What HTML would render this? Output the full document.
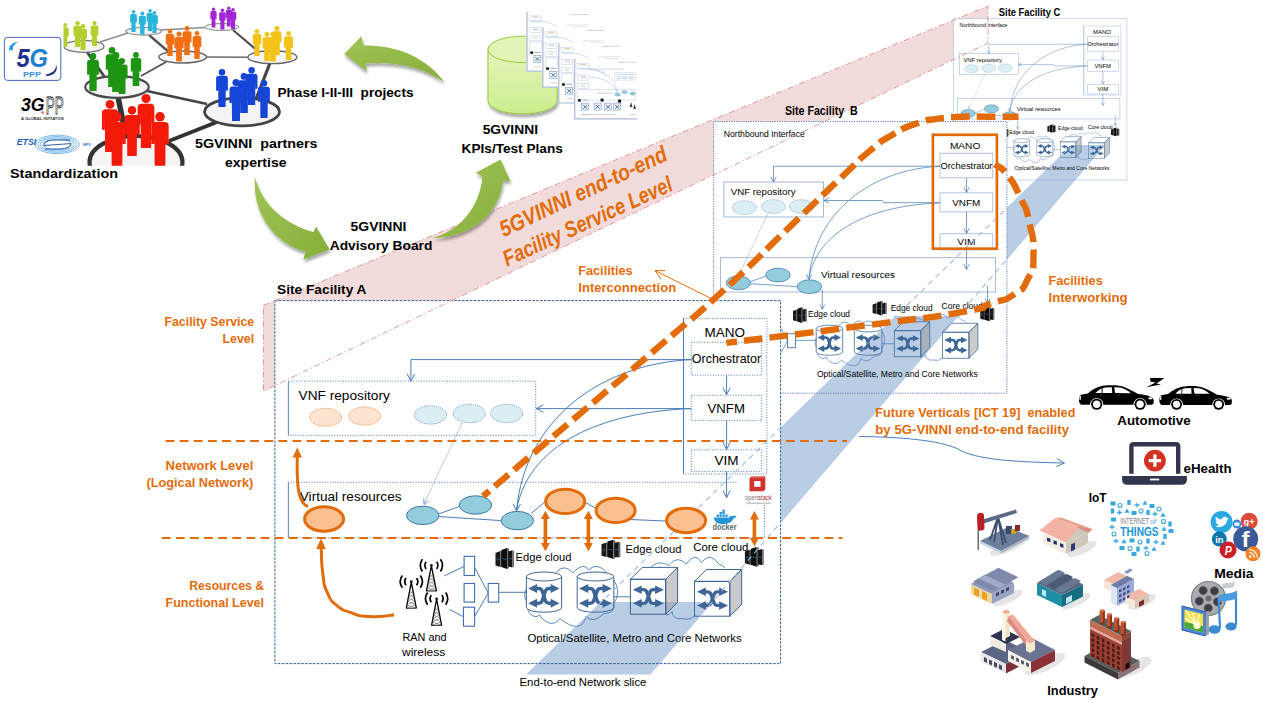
<!DOCTYPE html>
<html lang="en"><head><meta charset="utf-8"><title>5G-VINNI end-to-end facility</title>
<style>html,body{margin:0;padding:0;background:#fff;overflow:hidden}svg{display:block}text{font-family:"Liberation Sans",sans-serif;white-space:pre}</style></head>
<body>
<svg width="1263" height="708" viewBox="0 0 1263 708" font-family='&quot;Liberation Sans&quot;, sans-serif'><polygon points="263.5,305.4 988,6 988,43 263.5,391" fill="#f2dcdb"/>
<rect x="953.5" y="18.6" width="173.3" height="161.4" fill="#fff"/>
<rect x="713.7" y="121.5" width="293.2" height="271.7" fill="#fff"/>
<rect x="274.9" y="300.6" width="505.7" height="363" fill="#fff"/>
<defs><clipPath id="bandclip"><rect x="0" y="602" width="1263" height="80"/><rect x="780.6" y="316" width="500" height="286"/><rect x="1006.9" y="145" width="300" height="171"/></clipPath><clipPath id="clipB"><polygon points="713.7,121.5 1006.9,121.5 1006.9,393.2 780.6,393.2 780.6,300.6 713.7,300.6"/></clipPath><clipPath id="clipC"><polygon points="953.5,18.6 1126.8,18.6 1126.8,180 1006.9,180 1006.9,121.5 953.5,121.5"/></clipPath><clipPath id="clipA"><rect x="274.9" y="300.6" width="505.7" height="363"/></clipPath></defs>
<g clip-path="url(#bandclip)"><polygon points="526.6,674.5 650,674.5 1105,145 1072,145" fill="#b9cde5"/></g>
<g clip-path="url(#clipC)"><g transform="translate(780.5,-115.6) scale(0.4437,0.4445)"><rect x="403.4" y="380.7" width="132.7" height="46.7" fill="none" stroke="#8fabd6" stroke-width="1.1"/><text x="412.5" y="398.6" font-size="13.2" textLength="86.4" lengthAdjust="spacingAndGlyphs">VNF repository</text><text x="403.4" y="320.9" font-size="12.6" textLength="107.7" lengthAdjust="spacingAndGlyphs">Northbound Interface</text><ellipse cx="430.5" cy="414.9" rx="16.1" ry="9.2" fill="#dbeef4" stroke="#6f93b5" stroke-width="1" stroke-dasharray="1 1"/><ellipse cx="469.3" cy="413.5" rx="16.1" ry="9.2" fill="#dbeef4" stroke="#6f93b5" stroke-width="1" stroke-dasharray="1 1"/><ellipse cx="506.6" cy="413.5" rx="16.1" ry="9.2" fill="#dbeef4" stroke="#6f93b5" stroke-width="1" stroke-dasharray="1 1"/><rect x="399" y="481.8" width="366" height="45.9" fill="none" stroke="#8fabd6" stroke-width="1.1"/><text x="532.8" y="508.9" font-size="13.2" textLength="98.6" lengthAdjust="spacingAndGlyphs">Virtual resources</text><line x1="534.5" y1="524.3" x2="534.5" y2="550.8" stroke="#4a7ebb" stroke-width="1"/><polyline points="531.32,544.56 534.5,550.8 537.68,544.56" stroke="#4a7ebb" fill="none" stroke-width="1"/><line x1="754.5" y1="519.2" x2="754.5" y2="543" stroke="#4a7ebb" stroke-width="1"/><polyline points="751.32,536.76 754.5,543 757.68,536.76" stroke="#4a7ebb" fill="none" stroke-width="1"/><g stroke="#4a7ebb" stroke-width="1"><line x1="438.6" y1="514" x2="459.8" y2="506.3"/><line x1="438.8" y1="516.6" x2="501.2" y2="520.6"/></g><ellipse cx="422.7" cy="515.4" rx="16.2" ry="9.2" fill="#93cddd" stroke="#3a78a8" stroke-width="1"/><ellipse cx="475.5" cy="505" rx="16.2" ry="9.2" fill="#93cddd" stroke="#3a78a8" stroke-width="1"/><ellipse cx="517.4" cy="520.6" rx="16.2" ry="9.2" fill="#93cddd" stroke="#3a78a8" stroke-width="1"/><path d="M683.5,474 L683.5,318.4" fill="none" stroke="#4a7ebb" stroke-width="1"/><path d="M683.5,318.4 L766.9,318.4 L766.9,474 L683.5,474" fill="none" stroke="#9db6dc" stroke-width="1"/><rect x="691.3" y="342.3" width="70.3" height="32.8" fill="none" stroke="#9db6dc" stroke-width="1.1"/><rect x="691.3" y="395.2" width="70.3" height="25.4" fill="none" stroke="#9db6dc" stroke-width="1.1"/><rect x="691.3" y="449.8" width="70.3" height="21.6" fill="none" stroke="#9db6dc" stroke-width="1.1"/><text x="704.5" y="336.6" font-size="13.2" textLength="40.4" lengthAdjust="spacingAndGlyphs">MANO</text><text x="691.8" y="363.2" font-size="12.6" textLength="69.4" lengthAdjust="spacingAndGlyphs">Orchestrator</text><text x="707.5" y="413.2" font-size="13.2" textLength="37.4" lengthAdjust="spacingAndGlyphs">VNFM</text><text x="714.4" y="465.1" font-size="13.2" textLength="24.1" lengthAdjust="spacingAndGlyphs">VIM</text><line x1="726.6" y1="375.1" x2="726.6" y2="394.8" stroke="#4a7ebb" stroke-width="1"/><polyline points="722.97,387.67 726.6,394.8 730.23,387.67" stroke="#4a7ebb" fill="none" stroke-width="1"/><line x1="726.6" y1="420.6" x2="726.6" y2="449.4" stroke="#4a7ebb" stroke-width="1"/><polyline points="722.97,442.27 726.6,449.4 730.23,442.27" stroke="#4a7ebb" fill="none" stroke-width="1"/><line x1="726.6" y1="471.4" x2="726.6" y2="497.6" stroke="#4a7ebb" stroke-width="1"/><polyline points="722.97,490.47 726.6,497.6 730.23,490.47" stroke="#4a7ebb" fill="none" stroke-width="1"/><polyline points="691.3,359.6 469.5,359.6 469.5,380.3" fill="none" stroke="#4a7ebb" stroke-width="1"/><polyline points="465.87,373.57 469.5,380.7 473.13,373.57" stroke="#4a7ebb" fill="none" stroke-width="1"/><polyline points="691.3,408.3 616.5,408.3 614.5,405.4 536.6,405.4" fill="none" stroke="#4a7ebb" stroke-width="1"/><polyline points="543.73,401.77 536.6,405.4 543.73,409.03" stroke="#4a7ebb" fill="none" stroke-width="1"/><path d="M691.3,359.6 C600,364 525,420 516.6,510" fill="none" stroke="#4a7ebb" stroke-width="1"/><path d="M691.3,408.6 C600,412 528,445 516.6,510" fill="none" stroke="#4a7ebb" stroke-width="1"/><polyline points="513.22,503.75 516.6,511 520.48,504" stroke="#4a7ebb" fill="none" stroke-width="1"/><line x1="462" y1="423" x2="424.2" y2="503.5" stroke="#4a7ebb" stroke-width="0.8" stroke-dasharray="1 1"/><polyline points="423.79,498.5 424,504.5 428.73,500.81" stroke-width="0.8" stroke="#4a7ebb" fill="none"/><path d="M556,572.4 Q564.4,563.2 572.8,572.8 Q583.7,561.45 588.6,569.9 Q596.25,561.65 606.9,572.4 M613.8,579.8 Q621.8,592.35 613.8,603.5 Q615.1,613.45 604,613.6 M604,613.4 Q592.95,624.35 586.1,616.3 Q581.2,635.5 559.5,618.3 M559.5,619.3 Q550.55,629.5 539.4,615.3 M540.7,614.8 Q533.35,620 527.8,610.4 M526.4,589 Q522.8,595 526.4,601" fill="none" stroke="#4a7ebb" stroke-width="0.9"/><path d="M651.1,567 Q658.8,559.2 669.7,565.8 M669.7,564.7 Q677.5,554.8 686.1,564.1 Q695.45,551.35 701.4,562.4 Q710.35,551.05 719.5,564.7 Q722.9,564.8 725.1,568.1 M665.7,614.8 Q669.15,616 672,611.6 Q672.5,620.1 683,618.6 Q689.3,620.7 694.4,616" fill="none" stroke="#4a7ebb" stroke-width="0.9"/><g stroke="#000" fill="none"><circle cx="431.4" cy="565.4" r="1.3" fill="#000" stroke="none"/><path d="M431.4,565.9 L426.4,591 M431.4,565.9 L436.4,591" stroke-width="1.3"/><path d="M429.65,574.36 L433.8,577.69 M433.15,574.36 L429,577.69 M429,577.69 L434.45,581.02 M433.8,577.69 L428.35,581.02 M428.35,581.02 L435.1,584.34 M434.45,581.02 L427.7,584.34 M427.7,584.34 L435.75,587.67 M435.1,584.34 L427.05,587.67 M427.05,587.67 L436.4,591 M435.75,587.67 L426.4,591" stroke-width="0.45" stroke="#444"/><line x1="426.1" y1="591" x2="436.7" y2="591" stroke-width="0.9"/><path d="M426.09,561.82 A6.4,6.4 0 0 0 426.09,568.98" stroke-width="1.7"/><path d="M436.71,561.82 A6.4,6.4 0 0 1 436.71,568.98" stroke-width="1.7"/><path d="M422.36,559.3 A10.9,10.9 0 0 0 422.36,571.5" stroke-width="1.7"/><path d="M440.44,559.3 A10.9,10.9 0 0 1 440.44,571.5" stroke-width="1.7"/></g><g stroke="#000" fill="none"><circle cx="411.3" cy="581.6" r="1.3" fill="#000" stroke="none"/><path d="M411.3,582.1 L406.3,608.2 M411.3,582.1 L416.3,608.2" stroke-width="1.3"/><path d="M409.55,590.91 L413.7,594.37 M413.05,590.91 L408.9,594.37 M408.9,594.37 L414.35,597.83 M413.7,594.37 L408.25,597.83 M408.25,597.83 L415,601.28 M414.35,597.83 L407.6,601.28 M407.6,601.28 L415.65,604.74 M415,601.28 L406.95,604.74 M406.95,604.74 L416.3,608.2 M415.65,604.74 L406.3,608.2" stroke-width="0.45" stroke="#444"/><line x1="406" y1="608.2" x2="416.6" y2="608.2" stroke-width="0.9"/><path d="M405.99,578.02 A6.4,6.4 0 0 0 405.99,585.18" stroke-width="1.7"/><path d="M416.61,578.02 A6.4,6.4 0 0 1 416.61,585.18" stroke-width="1.7"/><path d="M402.26,575.5 A10.9,10.9 0 0 0 402.26,587.7" stroke-width="1.7"/><path d="M420.34,575.5 A10.9,10.9 0 0 1 420.34,587.7" stroke-width="1.7"/></g><g stroke="#000" fill="none"><circle cx="436.6" cy="598.7" r="1.3" fill="#000" stroke="none"/><path d="M436.6,599.2 L431.6,625.3 M436.6,599.2 L441.6,625.3" stroke-width="1.3"/><path d="M434.85,608.01 L439,611.47 M438.35,608.01 L434.2,611.47 M434.2,611.47 L439.65,614.93 M439,611.47 L433.55,614.93 M433.55,614.93 L440.3,618.38 M439.65,614.93 L432.9,618.38 M432.9,618.38 L440.95,621.84 M440.3,618.38 L432.25,621.84 M432.25,621.84 L441.6,625.3 M440.95,621.84 L431.6,625.3" stroke-width="0.45" stroke="#444"/><line x1="431.3" y1="625.3" x2="441.9" y2="625.3" stroke-width="0.9"/><path d="M431.29,595.12 A6.4,6.4 0 0 0 431.29,602.28" stroke-width="1.7"/><path d="M441.91,595.12 A6.4,6.4 0 0 1 441.91,602.28" stroke-width="1.7"/><path d="M427.56,592.6 A10.9,10.9 0 0 0 427.56,604.8" stroke-width="1.7"/><path d="M445.64,592.6 A10.9,10.9 0 0 1 445.64,604.8" stroke-width="1.7"/></g><rect x="464.1" y="556.3" width="10.5" height="19.2" fill="#fff" stroke="#3f6db3" stroke-width="1.1"/><rect x="464.1" y="583.5" width="10.5" height="18.6" fill="#fff" stroke="#3f6db3" stroke-width="1.1"/><rect x="463.5" y="607.2" width="11.1" height="19" fill="#fff" stroke="#3f6db3" stroke-width="1.1"/><rect x="488.2" y="583.5" width="10.5" height="18.6" fill="#fff" stroke="#3f6db3" stroke-width="1.1"/><g stroke="#4a7ebb" stroke-width="1"><line x1="444.2" y1="575.9" x2="464.1" y2="566.4"/><line x1="449.5" y1="609.5" x2="463.5" y2="616.7"/><line x1="474.6" y1="567.3" x2="488.2" y2="593"/><line x1="474.6" y1="616.7" x2="488.2" y2="593"/><line x1="498.7" y1="592.3" x2="526.4" y2="592.3"/><line x1="614" y1="596.8" x2="630.4" y2="596.8"/></g><path d="M526.4,576.5 L526.4,607.7 A17.6,4.5 0 0 0 561.6,607.7 L561.6,576.5" fill="none" stroke="#3d6596" stroke-width="1"/><ellipse cx="544" cy="576.5" rx="17.6" ry="4.5" fill="none" stroke="#3d6596" stroke-width="1"/><g transform="translate(528.2,584) scale(1.01,0.99)" fill="#3d6596" stroke="none"><path d="M7.5,4.6 L10.6,4.6 C13.5,4.6 13.8,6.5 15.5,12 C17.2,17.5 17.5,19.4 20.4,19.4 L23.5,19.4" fill="none" stroke="#3d6596" stroke-width="3.5"/><path d="M7.5,19.4 L10.6,19.4 C13.5,19.4 13.8,17.5 15.5,12 C17.2,6.5 17.5,4.6 20.4,4.6 L23.5,4.6" fill="none" stroke="#3d6596" stroke-width="3.5"/><polygon points="0,4.6 8.8,0 8.8,9.2"/><polygon points="31,19.4 22.2,14.8 22.2,24"/><polygon points="0,19.4 8.8,14.8 8.8,24"/><polygon points="31,4.6 22.2,0 22.2,9.2"/></g><path d="M577.2,576.5 L577.2,607.7 A18.3,4.5 0 0 0 613.8,607.7 L613.8,576.5" fill="none" stroke="#3d6596" stroke-width="1"/><ellipse cx="595.5" cy="576.5" rx="18.3" ry="4.5" fill="none" stroke="#3d6596" stroke-width="1"/><g transform="translate(579,584) scale(1.06,0.99)" fill="#3d6596" stroke="none"><path d="M7.5,4.6 L10.6,4.6 C13.5,4.6 13.8,6.5 15.5,12 C17.2,17.5 17.5,19.4 20.4,19.4 L23.5,19.4" fill="none" stroke="#3d6596" stroke-width="3.5"/><path d="M7.5,19.4 L10.6,19.4 C13.5,19.4 13.8,17.5 15.5,12 C17.2,6.5 17.5,4.6 20.4,4.6 L23.5,4.6" fill="none" stroke="#3d6596" stroke-width="3.5"/><polygon points="0,4.6 8.8,0 8.8,9.2"/><polygon points="31,19.4 22.2,14.8 22.2,24"/><polygon points="0,19.4 8.8,14.8 8.8,24"/><polygon points="31,4.6 22.2,0 22.2,9.2"/></g><polygon points="630.4,579.3 642.3,567.4 677.6,567.4 665.7,579.3" fill="none" stroke="#3d6596" stroke-width="1" stroke-linejoin="round"/><polygon points="665.7,579.3 677.6,567.4 677.6,602.3 665.7,614.2" fill="rgba(150,150,150,0.5)" stroke="#3d6596" stroke-width="1" stroke-linejoin="round"/><rect x="630.4" y="579.3" width="35.3" height="34.9" fill="none" stroke="#3d6596" stroke-width="1"/><g transform="translate(632.9,585.5) scale(1,0.92)" fill="#3d6596" stroke="none"><path d="M7.5,4.6 L10.6,4.6 C13.5,4.6 13.8,6.5 15.5,12 C17.2,17.5 17.5,19.4 20.4,19.4 L23.5,19.4" fill="none" stroke="#3d6596" stroke-width="3.5"/><path d="M7.5,19.4 L10.6,19.4 C13.5,19.4 13.8,17.5 15.5,12 C17.2,6.5 17.5,4.6 20.4,4.6 L23.5,4.6" fill="none" stroke="#3d6596" stroke-width="3.5"/><polygon points="0,4.6 8.8,0 8.8,9.2"/><polygon points="31,19.4 22.2,14.8 22.2,24"/><polygon points="0,19.4 8.8,14.8 8.8,24"/><polygon points="31,4.6 22.2,0 22.2,9.2"/></g><polygon points="694.5,581.4 706.4,569.5 741.7,569.5 729.8,581.4" fill="none" stroke="#3d6596" stroke-width="1" stroke-linejoin="round"/><polygon points="729.8,581.4 741.7,569.5 741.7,604.3 729.8,616.2" fill="rgba(150,150,150,0.5)" stroke="#3d6596" stroke-width="1" stroke-linejoin="round"/><rect x="694.5" y="581.4" width="35.3" height="34.8" fill="none" stroke="#3d6596" stroke-width="1"/><g transform="translate(697,587.6) scale(1,0.92)" fill="#3d6596" stroke="none"><path d="M7.5,4.6 L10.6,4.6 C13.5,4.6 13.8,6.5 15.5,12 C17.2,17.5 17.5,19.4 20.4,19.4 L23.5,19.4" fill="none" stroke="#3d6596" stroke-width="3.5"/><path d="M7.5,19.4 L10.6,19.4 C13.5,19.4 13.8,17.5 15.5,12 C17.2,6.5 17.5,4.6 20.4,4.6 L23.5,4.6" fill="none" stroke="#3d6596" stroke-width="3.5"/><polygon points="0,4.6 8.8,0 8.8,9.2"/><polygon points="31,19.4 22.2,14.8 22.2,24"/><polygon points="0,19.4 8.8,14.8 8.8,24"/><polygon points="31,4.6 22.2,0 22.2,9.2"/></g><g transform="translate(495,548) scale(0.97,1)"><polygon points="0.5,5 5.5,3 5.5,19 0.5,17.5" fill="#1a1a1a"/><polygon points="5.5,3 7.5,3.6 7.5,18.5 5.5,19" fill="#555"/><polygon points="6.5,2 12.5,0 12.5,21 6.5,19" fill="#0c0c0c"/><polygon points="12.5,0 14.5,0.8 14.5,20.2 12.5,21" fill="#666"/><polygon points="13.5,3.5 18,2.2 18,19.5 13.5,18.5" fill="#151515"/><polygon points="18,2.2 19.6,3 19.6,18.6 18,19.5" fill="#6a6a6a"/><line x1="1.5" y1="11" x2="5" y2="11.6" stroke="#3d7fc0" stroke-width="0.6"/><line x1="7.5" y1="10.5" x2="12" y2="11.4" stroke="#3d7fc0" stroke-width="0.6"/><line x1="14.2" y1="10.5" x2="17.5" y2="11" stroke="#3d7fc0" stroke-width="0.6"/></g><g transform="translate(601,539.8) scale(0.99,0.91)"><polygon points="0.5,5 5.5,3 5.5,19 0.5,17.5" fill="#1a1a1a"/><polygon points="5.5,3 7.5,3.6 7.5,18.5 5.5,19" fill="#555"/><polygon points="6.5,2 12.5,0 12.5,21 6.5,19" fill="#0c0c0c"/><polygon points="12.5,0 14.5,0.8 14.5,20.2 12.5,21" fill="#666"/><polygon points="13.5,3.5 18,2.2 18,19.5 13.5,18.5" fill="#151515"/><polygon points="18,2.2 19.6,3 19.6,18.6 18,19.5" fill="#6a6a6a"/><line x1="1.5" y1="11" x2="5" y2="11.6" stroke="#3d7fc0" stroke-width="0.6"/><line x1="7.5" y1="10.5" x2="12" y2="11.4" stroke="#3d7fc0" stroke-width="0.6"/><line x1="14.2" y1="10.5" x2="17.5" y2="11" stroke="#3d7fc0" stroke-width="0.6"/></g><g transform="translate(744.4,546.9) scale(0.99,0.94)"><polygon points="0.5,5 5.5,3 5.5,19 0.5,17.5" fill="#1a1a1a"/><polygon points="5.5,3 7.5,3.6 7.5,18.5 5.5,19" fill="#555"/><polygon points="6.5,2 12.5,0 12.5,21 6.5,19" fill="#0c0c0c"/><polygon points="12.5,0 14.5,0.8 14.5,20.2 12.5,21" fill="#666"/><polygon points="13.5,3.5 18,2.2 18,19.5 13.5,18.5" fill="#151515"/><polygon points="18,2.2 19.6,3 19.6,18.6 18,19.5" fill="#6a6a6a"/><line x1="1.5" y1="11" x2="5" y2="11.6" stroke="#3d7fc0" stroke-width="0.6"/><line x1="7.5" y1="10.5" x2="12" y2="11.4" stroke="#3d7fc0" stroke-width="0.6"/><line x1="14.2" y1="10.5" x2="17.5" y2="11" stroke="#3d7fc0" stroke-width="0.6"/></g><text x="515.6" y="560.7" font-size="11.6" textLength="55.8" lengthAdjust="spacingAndGlyphs">Edge cloud</text><text x="625.6" y="552.5" font-size="11.6" textLength="55.8" lengthAdjust="spacingAndGlyphs">Edge cloud</text><text x="693.2" y="550.8" font-size="11.6" textLength="55.2" lengthAdjust="spacingAndGlyphs">Core cloud</text><text x="527.4" y="641.6" font-size="11.6" textLength="214.3" lengthAdjust="spacingAndGlyphs">Optical/Satellite, Metro and Core Networks</text><text x="402.5" y="640.8" font-size="11.6" textLength="44" lengthAdjust="spacingAndGlyphs">RAN and</text><text x="402" y="655.5" font-size="11.6" textLength="43.2" lengthAdjust="spacingAndGlyphs">wireless</text></g></g>
<path d="M953.5,121.5 L953.5,18.6 L1126.8,18.6 L1126.8,180 L1006.9,180" fill="none" stroke="#7f9fd0" stroke-width="0.8" stroke-dasharray="1 1"/>
<g clip-path="url(#clipB)"><g transform="translate(421,-102.9) scale(0.7508,0.7484)"><rect x="403.4" y="380.7" width="132.7" height="46.7" fill="none" stroke="#8fabd6" stroke-width="1.1"/><text x="412.5" y="398.6" font-size="13.2" textLength="86.4" lengthAdjust="spacingAndGlyphs">VNF repository</text><text x="403.4" y="320.9" font-size="12.6" textLength="107.7" lengthAdjust="spacingAndGlyphs">Northbound Interface</text><ellipse cx="430.5" cy="414.9" rx="16.1" ry="9.2" fill="#dbeef4" stroke="#6f93b5" stroke-width="1" stroke-dasharray="1 1"/><ellipse cx="469.3" cy="413.5" rx="16.1" ry="9.2" fill="#dbeef4" stroke="#6f93b5" stroke-width="1" stroke-dasharray="1 1"/><ellipse cx="506.6" cy="413.5" rx="16.1" ry="9.2" fill="#dbeef4" stroke="#6f93b5" stroke-width="1" stroke-dasharray="1 1"/><rect x="399" y="481.8" width="366" height="45.9" fill="none" stroke="#8fabd6" stroke-width="1.1"/><text x="532.8" y="508.9" font-size="13.2" textLength="98.6" lengthAdjust="spacingAndGlyphs">Virtual resources</text><line x1="534.5" y1="524.3" x2="534.5" y2="550.8" stroke="#4a7ebb" stroke-width="1"/><polyline points="531.32,544.56 534.5,550.8 537.68,544.56" stroke="#4a7ebb" fill="none" stroke-width="1"/><line x1="754.5" y1="519.2" x2="754.5" y2="543" stroke="#4a7ebb" stroke-width="1"/><polyline points="751.32,536.76 754.5,543 757.68,536.76" stroke="#4a7ebb" fill="none" stroke-width="1"/><g stroke="#4a7ebb" stroke-width="1"><line x1="438.6" y1="514" x2="459.8" y2="506.3"/><line x1="438.8" y1="516.6" x2="501.2" y2="520.6"/></g><ellipse cx="422.7" cy="515.4" rx="16.2" ry="9.2" fill="#93cddd" stroke="#3a78a8" stroke-width="1"/><ellipse cx="475.5" cy="505" rx="16.2" ry="9.2" fill="#93cddd" stroke="#3a78a8" stroke-width="1"/><ellipse cx="517.4" cy="520.6" rx="16.2" ry="9.2" fill="#93cddd" stroke="#3a78a8" stroke-width="1"/><rect x="691.3" y="342.3" width="70.3" height="32.8" fill="none" stroke="#9db6dc" stroke-width="1.1"/><rect x="691.3" y="395.2" width="70.3" height="25.4" fill="none" stroke="#9db6dc" stroke-width="1.1"/><rect x="691.3" y="449.8" width="70.3" height="21.6" fill="none" stroke="#9db6dc" stroke-width="1.1"/><text x="704.5" y="336.6" font-size="13.2" textLength="40.4" lengthAdjust="spacingAndGlyphs">MANO</text><text x="691.8" y="363.2" font-size="12.6" textLength="69.4" lengthAdjust="spacingAndGlyphs">Orchestrator</text><text x="707.5" y="413.2" font-size="13.2" textLength="37.4" lengthAdjust="spacingAndGlyphs">VNFM</text><text x="714.4" y="465.1" font-size="13.2" textLength="24.1" lengthAdjust="spacingAndGlyphs">VIM</text><line x1="726.6" y1="375.1" x2="726.6" y2="394.8" stroke="#4a7ebb" stroke-width="1"/><polyline points="722.97,387.67 726.6,394.8 730.23,387.67" stroke="#4a7ebb" fill="none" stroke-width="1"/><line x1="726.6" y1="420.6" x2="726.6" y2="449.4" stroke="#4a7ebb" stroke-width="1"/><polyline points="722.97,442.27 726.6,449.4 730.23,442.27" stroke="#4a7ebb" fill="none" stroke-width="1"/><line x1="726.6" y1="471.4" x2="726.6" y2="497.6" stroke="#4a7ebb" stroke-width="1"/><polyline points="722.97,490.47 726.6,497.6 730.23,490.47" stroke="#4a7ebb" fill="none" stroke-width="1"/><polyline points="691.3,359.6 469.5,359.6 469.5,380.3" fill="none" stroke="#4a7ebb" stroke-width="1"/><polyline points="465.87,373.57 469.5,380.7 473.13,373.57" stroke="#4a7ebb" fill="none" stroke-width="1"/><polyline points="691.3,408.3 616.5,408.3 614.5,405.4 536.6,405.4" fill="none" stroke="#4a7ebb" stroke-width="1"/><polyline points="543.73,401.77 536.6,405.4 543.73,409.03" stroke="#4a7ebb" fill="none" stroke-width="1"/><path d="M691.3,359.6 C600,364 525,420 516.6,510" fill="none" stroke="#4a7ebb" stroke-width="1"/><path d="M691.3,408.6 C600,412 528,445 516.6,510" fill="none" stroke="#4a7ebb" stroke-width="1"/><polyline points="513.22,503.75 516.6,511 520.48,504" stroke="#4a7ebb" fill="none" stroke-width="1"/><line x1="462" y1="423" x2="424.2" y2="503.5" stroke="#4a7ebb" stroke-width="0.8" stroke-dasharray="1 1"/><polyline points="423.79,498.5 424,504.5 428.73,500.81" stroke-width="0.8" stroke="#4a7ebb" fill="none"/><path d="M556,572.4 Q564.4,563.2 572.8,572.8 Q583.7,561.45 588.6,569.9 Q596.25,561.65 606.9,572.4 M613.8,579.8 Q621.8,592.35 613.8,603.5 Q615.1,613.45 604,613.6 M604,613.4 Q592.95,624.35 586.1,616.3 Q581.2,635.5 559.5,618.3 M559.5,619.3 Q550.55,629.5 539.4,615.3 M540.7,614.8 Q533.35,620 527.8,610.4 M526.4,589 Q522.8,595 526.4,601" fill="none" stroke="#4a7ebb" stroke-width="0.9"/><path d="M651.1,567 Q658.8,559.2 669.7,565.8 M669.7,564.7 Q677.5,554.8 686.1,564.1 Q695.45,551.35 701.4,562.4 Q710.35,551.05 719.5,564.7 Q722.9,564.8 725.1,568.1 M665.7,614.8 Q669.15,616 672,611.6 Q672.5,620.1 683,618.6 Q689.3,620.7 694.4,616" fill="none" stroke="#4a7ebb" stroke-width="0.9"/><g stroke="#000" fill="none"><circle cx="431.4" cy="565.4" r="1.3" fill="#000" stroke="none"/><path d="M431.4,565.9 L426.4,591 M431.4,565.9 L436.4,591" stroke-width="1.3"/><path d="M429.65,574.36 L433.8,577.69 M433.15,574.36 L429,577.69 M429,577.69 L434.45,581.02 M433.8,577.69 L428.35,581.02 M428.35,581.02 L435.1,584.34 M434.45,581.02 L427.7,584.34 M427.7,584.34 L435.75,587.67 M435.1,584.34 L427.05,587.67 M427.05,587.67 L436.4,591 M435.75,587.67 L426.4,591" stroke-width="0.45" stroke="#444"/><line x1="426.1" y1="591" x2="436.7" y2="591" stroke-width="0.9"/><path d="M426.09,561.82 A6.4,6.4 0 0 0 426.09,568.98" stroke-width="1.7"/><path d="M436.71,561.82 A6.4,6.4 0 0 1 436.71,568.98" stroke-width="1.7"/><path d="M422.36,559.3 A10.9,10.9 0 0 0 422.36,571.5" stroke-width="1.7"/><path d="M440.44,559.3 A10.9,10.9 0 0 1 440.44,571.5" stroke-width="1.7"/></g><g stroke="#000" fill="none"><circle cx="411.3" cy="581.6" r="1.3" fill="#000" stroke="none"/><path d="M411.3,582.1 L406.3,608.2 M411.3,582.1 L416.3,608.2" stroke-width="1.3"/><path d="M409.55,590.91 L413.7,594.37 M413.05,590.91 L408.9,594.37 M408.9,594.37 L414.35,597.83 M413.7,594.37 L408.25,597.83 M408.25,597.83 L415,601.28 M414.35,597.83 L407.6,601.28 M407.6,601.28 L415.65,604.74 M415,601.28 L406.95,604.74 M406.95,604.74 L416.3,608.2 M415.65,604.74 L406.3,608.2" stroke-width="0.45" stroke="#444"/><line x1="406" y1="608.2" x2="416.6" y2="608.2" stroke-width="0.9"/><path d="M405.99,578.02 A6.4,6.4 0 0 0 405.99,585.18" stroke-width="1.7"/><path d="M416.61,578.02 A6.4,6.4 0 0 1 416.61,585.18" stroke-width="1.7"/><path d="M402.26,575.5 A10.9,10.9 0 0 0 402.26,587.7" stroke-width="1.7"/><path d="M420.34,575.5 A10.9,10.9 0 0 1 420.34,587.7" stroke-width="1.7"/></g><g stroke="#000" fill="none"><circle cx="436.6" cy="598.7" r="1.3" fill="#000" stroke="none"/><path d="M436.6,599.2 L431.6,625.3 M436.6,599.2 L441.6,625.3" stroke-width="1.3"/><path d="M434.85,608.01 L439,611.47 M438.35,608.01 L434.2,611.47 M434.2,611.47 L439.65,614.93 M439,611.47 L433.55,614.93 M433.55,614.93 L440.3,618.38 M439.65,614.93 L432.9,618.38 M432.9,618.38 L440.95,621.84 M440.3,618.38 L432.25,621.84 M432.25,621.84 L441.6,625.3 M440.95,621.84 L431.6,625.3" stroke-width="0.45" stroke="#444"/><line x1="431.3" y1="625.3" x2="441.9" y2="625.3" stroke-width="0.9"/><path d="M431.29,595.12 A6.4,6.4 0 0 0 431.29,602.28" stroke-width="1.7"/><path d="M441.91,595.12 A6.4,6.4 0 0 1 441.91,602.28" stroke-width="1.7"/><path d="M427.56,592.6 A10.9,10.9 0 0 0 427.56,604.8" stroke-width="1.7"/><path d="M445.64,592.6 A10.9,10.9 0 0 1 445.64,604.8" stroke-width="1.7"/></g><rect x="464.1" y="556.3" width="10.5" height="19.2" fill="#fff" stroke="#3f6db3" stroke-width="1.1"/><rect x="464.1" y="583.5" width="10.5" height="18.6" fill="#fff" stroke="#3f6db3" stroke-width="1.1"/><rect x="463.5" y="607.2" width="11.1" height="19" fill="#fff" stroke="#3f6db3" stroke-width="1.1"/><rect x="488.2" y="583.5" width="10.5" height="18.6" fill="#fff" stroke="#3f6db3" stroke-width="1.1"/><g stroke="#4a7ebb" stroke-width="1"><line x1="444.2" y1="575.9" x2="464.1" y2="566.4"/><line x1="449.5" y1="609.5" x2="463.5" y2="616.7"/><line x1="474.6" y1="567.3" x2="488.2" y2="593"/><line x1="474.6" y1="616.7" x2="488.2" y2="593"/><line x1="498.7" y1="592.3" x2="526.4" y2="592.3"/><line x1="614" y1="596.8" x2="630.4" y2="596.8"/></g><path d="M526.4,576.5 L526.4,607.7 A17.6,4.5 0 0 0 561.6,607.7 L561.6,576.5" fill="none" stroke="#3d6596" stroke-width="1"/><ellipse cx="544" cy="576.5" rx="17.6" ry="4.5" fill="none" stroke="#3d6596" stroke-width="1"/><g transform="translate(528.2,584) scale(1.01,0.99)" fill="#3d6596" stroke="none"><path d="M7.5,4.6 L10.6,4.6 C13.5,4.6 13.8,6.5 15.5,12 C17.2,17.5 17.5,19.4 20.4,19.4 L23.5,19.4" fill="none" stroke="#3d6596" stroke-width="3.5"/><path d="M7.5,19.4 L10.6,19.4 C13.5,19.4 13.8,17.5 15.5,12 C17.2,6.5 17.5,4.6 20.4,4.6 L23.5,4.6" fill="none" stroke="#3d6596" stroke-width="3.5"/><polygon points="0,4.6 8.8,0 8.8,9.2"/><polygon points="31,19.4 22.2,14.8 22.2,24"/><polygon points="0,19.4 8.8,14.8 8.8,24"/><polygon points="31,4.6 22.2,0 22.2,9.2"/></g><path d="M577.2,576.5 L577.2,607.7 A18.3,4.5 0 0 0 613.8,607.7 L613.8,576.5" fill="none" stroke="#3d6596" stroke-width="1"/><ellipse cx="595.5" cy="576.5" rx="18.3" ry="4.5" fill="none" stroke="#3d6596" stroke-width="1"/><g transform="translate(579,584) scale(1.06,0.99)" fill="#3d6596" stroke="none"><path d="M7.5,4.6 L10.6,4.6 C13.5,4.6 13.8,6.5 15.5,12 C17.2,17.5 17.5,19.4 20.4,19.4 L23.5,19.4" fill="none" stroke="#3d6596" stroke-width="3.5"/><path d="M7.5,19.4 L10.6,19.4 C13.5,19.4 13.8,17.5 15.5,12 C17.2,6.5 17.5,4.6 20.4,4.6 L23.5,4.6" fill="none" stroke="#3d6596" stroke-width="3.5"/><polygon points="0,4.6 8.8,0 8.8,9.2"/><polygon points="31,19.4 22.2,14.8 22.2,24"/><polygon points="0,19.4 8.8,14.8 8.8,24"/><polygon points="31,4.6 22.2,0 22.2,9.2"/></g><polygon points="630.4,579.3 642.3,567.4 677.6,567.4 665.7,579.3" fill="none" stroke="#3d6596" stroke-width="1" stroke-linejoin="round"/><polygon points="665.7,579.3 677.6,567.4 677.6,602.3 665.7,614.2" fill="rgba(150,150,150,0.5)" stroke="#3d6596" stroke-width="1" stroke-linejoin="round"/><rect x="630.4" y="579.3" width="35.3" height="34.9" fill="none" stroke="#3d6596" stroke-width="1"/><g transform="translate(632.9,585.5) scale(1,0.92)" fill="#3d6596" stroke="none"><path d="M7.5,4.6 L10.6,4.6 C13.5,4.6 13.8,6.5 15.5,12 C17.2,17.5 17.5,19.4 20.4,19.4 L23.5,19.4" fill="none" stroke="#3d6596" stroke-width="3.5"/><path d="M7.5,19.4 L10.6,19.4 C13.5,19.4 13.8,17.5 15.5,12 C17.2,6.5 17.5,4.6 20.4,4.6 L23.5,4.6" fill="none" stroke="#3d6596" stroke-width="3.5"/><polygon points="0,4.6 8.8,0 8.8,9.2"/><polygon points="31,19.4 22.2,14.8 22.2,24"/><polygon points="0,19.4 8.8,14.8 8.8,24"/><polygon points="31,4.6 22.2,0 22.2,9.2"/></g><polygon points="694.5,581.4 706.4,569.5 741.7,569.5 729.8,581.4" fill="none" stroke="#3d6596" stroke-width="1" stroke-linejoin="round"/><polygon points="729.8,581.4 741.7,569.5 741.7,604.3 729.8,616.2" fill="rgba(150,150,150,0.5)" stroke="#3d6596" stroke-width="1" stroke-linejoin="round"/><rect x="694.5" y="581.4" width="35.3" height="34.8" fill="none" stroke="#3d6596" stroke-width="1"/><g transform="translate(697,587.6) scale(1,0.92)" fill="#3d6596" stroke="none"><path d="M7.5,4.6 L10.6,4.6 C13.5,4.6 13.8,6.5 15.5,12 C17.2,17.5 17.5,19.4 20.4,19.4 L23.5,19.4" fill="none" stroke="#3d6596" stroke-width="3.5"/><path d="M7.5,19.4 L10.6,19.4 C13.5,19.4 13.8,17.5 15.5,12 C17.2,6.5 17.5,4.6 20.4,4.6 L23.5,4.6" fill="none" stroke="#3d6596" stroke-width="3.5"/><polygon points="0,4.6 8.8,0 8.8,9.2"/><polygon points="31,19.4 22.2,14.8 22.2,24"/><polygon points="0,19.4 8.8,14.8 8.8,24"/><polygon points="31,4.6 22.2,0 22.2,9.2"/></g><g transform="translate(495,548) scale(0.97,1)"><polygon points="0.5,5 5.5,3 5.5,19 0.5,17.5" fill="#1a1a1a"/><polygon points="5.5,3 7.5,3.6 7.5,18.5 5.5,19" fill="#555"/><polygon points="6.5,2 12.5,0 12.5,21 6.5,19" fill="#0c0c0c"/><polygon points="12.5,0 14.5,0.8 14.5,20.2 12.5,21" fill="#666"/><polygon points="13.5,3.5 18,2.2 18,19.5 13.5,18.5" fill="#151515"/><polygon points="18,2.2 19.6,3 19.6,18.6 18,19.5" fill="#6a6a6a"/><line x1="1.5" y1="11" x2="5" y2="11.6" stroke="#3d7fc0" stroke-width="0.6"/><line x1="7.5" y1="10.5" x2="12" y2="11.4" stroke="#3d7fc0" stroke-width="0.6"/><line x1="14.2" y1="10.5" x2="17.5" y2="11" stroke="#3d7fc0" stroke-width="0.6"/></g><g transform="translate(601,539.8) scale(0.99,0.91)"><polygon points="0.5,5 5.5,3 5.5,19 0.5,17.5" fill="#1a1a1a"/><polygon points="5.5,3 7.5,3.6 7.5,18.5 5.5,19" fill="#555"/><polygon points="6.5,2 12.5,0 12.5,21 6.5,19" fill="#0c0c0c"/><polygon points="12.5,0 14.5,0.8 14.5,20.2 12.5,21" fill="#666"/><polygon points="13.5,3.5 18,2.2 18,19.5 13.5,18.5" fill="#151515"/><polygon points="18,2.2 19.6,3 19.6,18.6 18,19.5" fill="#6a6a6a"/><line x1="1.5" y1="11" x2="5" y2="11.6" stroke="#3d7fc0" stroke-width="0.6"/><line x1="7.5" y1="10.5" x2="12" y2="11.4" stroke="#3d7fc0" stroke-width="0.6"/><line x1="14.2" y1="10.5" x2="17.5" y2="11" stroke="#3d7fc0" stroke-width="0.6"/></g><g transform="translate(744.4,546.9) scale(0.99,0.94)"><polygon points="0.5,5 5.5,3 5.5,19 0.5,17.5" fill="#1a1a1a"/><polygon points="5.5,3 7.5,3.6 7.5,18.5 5.5,19" fill="#555"/><polygon points="6.5,2 12.5,0 12.5,21 6.5,19" fill="#0c0c0c"/><polygon points="12.5,0 14.5,0.8 14.5,20.2 12.5,21" fill="#666"/><polygon points="13.5,3.5 18,2.2 18,19.5 13.5,18.5" fill="#151515"/><polygon points="18,2.2 19.6,3 19.6,18.6 18,19.5" fill="#6a6a6a"/><line x1="1.5" y1="11" x2="5" y2="11.6" stroke="#3d7fc0" stroke-width="0.6"/><line x1="7.5" y1="10.5" x2="12" y2="11.4" stroke="#3d7fc0" stroke-width="0.6"/><line x1="14.2" y1="10.5" x2="17.5" y2="11" stroke="#3d7fc0" stroke-width="0.6"/></g><text x="515.6" y="560.7" font-size="11.6" textLength="55.8" lengthAdjust="spacingAndGlyphs">Edge cloud</text><text x="625.6" y="552.5" font-size="11.6" textLength="55.8" lengthAdjust="spacingAndGlyphs">Edge cloud</text><text x="693.2" y="550.8" font-size="11.6" textLength="55.2" lengthAdjust="spacingAndGlyphs">Core cloud</text><text x="527.4" y="641.6" font-size="11.6" textLength="214.3" lengthAdjust="spacingAndGlyphs">Optical/Satellite, Metro and Core Networks</text><text x="402.5" y="640.8" font-size="11.6" textLength="44" lengthAdjust="spacingAndGlyphs">RAN and</text><text x="402" y="655.5" font-size="11.6" textLength="43.2" lengthAdjust="spacingAndGlyphs">wireless</text></g></g>
<path d="M713.7,300.6 L713.7,121.5 L1006.9,121.5 L1006.9,393.2 L780.6,393.2" fill="none" stroke="#4a74b4" stroke-width="0.9" stroke-dasharray="1.2 1.2"/>
<rect x="288.4" y="381.2" width="247.3" height="54.1" fill="none" stroke="#4a7ebb" stroke-width="1" stroke-dasharray="1 1.6"/><line x1="288.4" y1="381.2" x2="288.4" y2="435.3" stroke="#4a7ebb" stroke-width="0.8"/><text x="298.5" y="400.2" font-size="13.2" textLength="91.3" lengthAdjust="spacingAndGlyphs">VNF repository</text><ellipse cx="325.5" cy="417.3" rx="16" ry="9" fill="#fde4d0" stroke="#ee8a3c" stroke-width="1" stroke-dasharray="1 1"/><ellipse cx="364.6" cy="416.1" rx="16" ry="9" fill="#fde4d0" stroke="#ee8a3c" stroke-width="1" stroke-dasharray="1 1"/><ellipse cx="430.5" cy="414.9" rx="16.1" ry="9.2" fill="#dbeef4" stroke="#6f93b5" stroke-width="1" stroke-dasharray="1 1"/><ellipse cx="469.3" cy="413.5" rx="16.1" ry="9.2" fill="#dbeef4" stroke="#6f93b5" stroke-width="1" stroke-dasharray="1 1"/><ellipse cx="506.6" cy="413.5" rx="16.1" ry="9.2" fill="#dbeef4" stroke="#6f93b5" stroke-width="1" stroke-dasharray="1 1"/><path d="M736.5,482.3 L288.4,482.3 L288.4,537.8 L764.5,537.8 L764.5,505" fill="none" stroke="#4a7ebb" stroke-width="1" stroke-dasharray="1 1.6"/><line x1="288.4" y1="482.3" x2="288.4" y2="537.8" stroke="#4a7ebb" stroke-width="0.8"/><g stroke="#4a7ebb" stroke-width="1"><line x1="438.6" y1="514" x2="459.8" y2="506.3"/><line x1="438.8" y1="516.6" x2="501.2" y2="520.6"/></g><g stroke="#4a7ebb" stroke-width="1"><line x1="531" y1="513.5" x2="546" y2="501"/><line x1="585" y1="502" x2="596" y2="508.5"/><line x1="630" y1="519.5" x2="666" y2="521"/></g><ellipse cx="422.7" cy="515.4" rx="16.2" ry="9.2" fill="#93cddd" stroke="#3a78a8" stroke-width="1"/><ellipse cx="475.5" cy="505" rx="16.2" ry="9.2" fill="#93cddd" stroke="#3a78a8" stroke-width="1"/><ellipse cx="517.4" cy="520.6" rx="16.2" ry="9.2" fill="#93cddd" stroke="#3a78a8" stroke-width="1"/><path d="M683.5,474 L683.5,318.4" fill="none" stroke="#4a7ebb" stroke-width="1"/><path d="M683.5,318.4 L766.9,318.4 L766.9,474 L683.5,474" fill="none" stroke="#4a7ebb" stroke-width="1" stroke-dasharray="1 1.6"/><rect x="691.3" y="342.3" width="70.3" height="32.8" fill="none" stroke="#4a7ebb" stroke-width="1" stroke-dasharray="1 1.6"/><rect x="691.3" y="395.2" width="70.3" height="25.4" fill="none" stroke="#4a7ebb" stroke-width="1" stroke-dasharray="1 1.6"/><rect x="691.3" y="449.8" width="70.3" height="21.6" fill="none" stroke="#4a7ebb" stroke-width="1" stroke-dasharray="1 1.6"/><text x="704.5" y="336.6" font-size="13.2" textLength="40.4" lengthAdjust="spacingAndGlyphs">MANO</text><text x="691.8" y="363.2" font-size="12.6" textLength="69.4" lengthAdjust="spacingAndGlyphs">Orchestrator</text><text x="707.5" y="413.2" font-size="13.2" textLength="37.4" lengthAdjust="spacingAndGlyphs">VNFM</text><text x="714.4" y="465.1" font-size="13.2" textLength="24.1" lengthAdjust="spacingAndGlyphs">VIM</text><line x1="726.6" y1="375.1" x2="726.6" y2="394.8" stroke="#4a7ebb" stroke-width="1"/><polyline points="722.97,387.67 726.6,394.8 730.23,387.67" stroke="#4a7ebb" fill="none" stroke-width="1"/><line x1="726.6" y1="420.6" x2="726.6" y2="449.4" stroke="#4a7ebb" stroke-width="1"/><polyline points="722.97,442.27 726.6,449.4 730.23,442.27" stroke="#4a7ebb" fill="none" stroke-width="1"/><line x1="726.6" y1="471.4" x2="726.6" y2="497.6" stroke="#4a7ebb" stroke-width="1"/><polyline points="722.97,490.47 726.6,497.6 730.23,490.47" stroke="#4a7ebb" fill="none" stroke-width="1"/><polyline points="691.3,359.6 410.9,359.6 410.9,380.8" fill="none" stroke="#4a7ebb" stroke-width="1"/><polyline points="407.27,374.07 410.9,381.2 414.53,374.07" stroke="#4a7ebb" fill="none" stroke-width="1"/><line x1="691.3" y1="408.6" x2="536.2" y2="408.6" stroke="#4a7ebb" stroke-width="1"/><polyline points="543.33,404.97 536.2,408.6 543.33,412.23" stroke="#4a7ebb" fill="none" stroke-width="1"/><path d="M691.3,359.6 C600,364 525,420 516.6,510" fill="none" stroke="#4a7ebb" stroke-width="1"/><path d="M691.3,408.6 C600,412 528,445 516.6,510" fill="none" stroke="#4a7ebb" stroke-width="1"/><polyline points="513.22,503.75 516.6,511 520.48,504" stroke="#4a7ebb" fill="none" stroke-width="1"/><line x1="462" y1="423" x2="424.2" y2="503.5" stroke="#4a7ebb" stroke-width="0.8" stroke-dasharray="1 1"/><polyline points="423.79,498.5 424,504.5 428.73,500.81" stroke-width="0.8" stroke="#4a7ebb" fill="none"/><path d="M556,572.4 Q564.4,563.2 572.8,572.8 Q583.7,561.45 588.6,569.9 Q596.25,561.65 606.9,572.4 M613.8,579.8 Q621.8,592.35 613.8,603.5 Q615.1,613.45 604,613.6 M604,613.4 Q592.95,624.35 586.1,616.3 Q581.2,635.5 559.5,618.3 M559.5,619.3 Q550.55,629.5 539.4,615.3 M540.7,614.8 Q533.35,620 527.8,610.4 M526.4,589 Q522.8,595 526.4,601" fill="none" stroke="#4a7ebb" stroke-width="0.9"/><path d="M651.1,567 Q658.8,559.2 669.7,565.8 M669.7,564.7 Q677.5,554.8 686.1,564.1 Q695.45,551.35 701.4,562.4 Q710.35,551.05 719.5,564.7 Q722.9,564.8 725.1,568.1 M665.7,614.8 Q669.15,616 672,611.6 Q672.5,620.1 683,618.6 Q689.3,620.7 694.4,616" fill="none" stroke="#4a7ebb" stroke-width="0.9"/><g stroke="#000" fill="none"><circle cx="431.4" cy="565.4" r="1.3" fill="#000" stroke="none"/><path d="M431.4,565.9 L426.4,591 M431.4,565.9 L436.4,591" stroke-width="1.3"/><path d="M429.65,574.36 L433.8,577.69 M433.15,574.36 L429,577.69 M429,577.69 L434.45,581.02 M433.8,577.69 L428.35,581.02 M428.35,581.02 L435.1,584.34 M434.45,581.02 L427.7,584.34 M427.7,584.34 L435.75,587.67 M435.1,584.34 L427.05,587.67 M427.05,587.67 L436.4,591 M435.75,587.67 L426.4,591" stroke-width="0.45" stroke="#444"/><line x1="426.1" y1="591" x2="436.7" y2="591" stroke-width="0.9"/><path d="M426.09,561.82 A6.4,6.4 0 0 0 426.09,568.98" stroke-width="1.7"/><path d="M436.71,561.82 A6.4,6.4 0 0 1 436.71,568.98" stroke-width="1.7"/><path d="M422.36,559.3 A10.9,10.9 0 0 0 422.36,571.5" stroke-width="1.7"/><path d="M440.44,559.3 A10.9,10.9 0 0 1 440.44,571.5" stroke-width="1.7"/></g><g stroke="#000" fill="none"><circle cx="411.3" cy="581.6" r="1.3" fill="#000" stroke="none"/><path d="M411.3,582.1 L406.3,608.2 M411.3,582.1 L416.3,608.2" stroke-width="1.3"/><path d="M409.55,590.91 L413.7,594.37 M413.05,590.91 L408.9,594.37 M408.9,594.37 L414.35,597.83 M413.7,594.37 L408.25,597.83 M408.25,597.83 L415,601.28 M414.35,597.83 L407.6,601.28 M407.6,601.28 L415.65,604.74 M415,601.28 L406.95,604.74 M406.95,604.74 L416.3,608.2 M415.65,604.74 L406.3,608.2" stroke-width="0.45" stroke="#444"/><line x1="406" y1="608.2" x2="416.6" y2="608.2" stroke-width="0.9"/><path d="M405.99,578.02 A6.4,6.4 0 0 0 405.99,585.18" stroke-width="1.7"/><path d="M416.61,578.02 A6.4,6.4 0 0 1 416.61,585.18" stroke-width="1.7"/><path d="M402.26,575.5 A10.9,10.9 0 0 0 402.26,587.7" stroke-width="1.7"/><path d="M420.34,575.5 A10.9,10.9 0 0 1 420.34,587.7" stroke-width="1.7"/></g><g stroke="#000" fill="none"><circle cx="436.6" cy="598.7" r="1.3" fill="#000" stroke="none"/><path d="M436.6,599.2 L431.6,625.3 M436.6,599.2 L441.6,625.3" stroke-width="1.3"/><path d="M434.85,608.01 L439,611.47 M438.35,608.01 L434.2,611.47 M434.2,611.47 L439.65,614.93 M439,611.47 L433.55,614.93 M433.55,614.93 L440.3,618.38 M439.65,614.93 L432.9,618.38 M432.9,618.38 L440.95,621.84 M440.3,618.38 L432.25,621.84 M432.25,621.84 L441.6,625.3 M440.95,621.84 L431.6,625.3" stroke-width="0.45" stroke="#444"/><line x1="431.3" y1="625.3" x2="441.9" y2="625.3" stroke-width="0.9"/><path d="M431.29,595.12 A6.4,6.4 0 0 0 431.29,602.28" stroke-width="1.7"/><path d="M441.91,595.12 A6.4,6.4 0 0 1 441.91,602.28" stroke-width="1.7"/><path d="M427.56,592.6 A10.9,10.9 0 0 0 427.56,604.8" stroke-width="1.7"/><path d="M445.64,592.6 A10.9,10.9 0 0 1 445.64,604.8" stroke-width="1.7"/></g><rect x="464.1" y="556.3" width="10.5" height="19.2" fill="#fff" stroke="#3f6db3" stroke-width="1.1"/><rect x="464.1" y="583.5" width="10.5" height="18.6" fill="#fff" stroke="#3f6db3" stroke-width="1.1"/><rect x="463.5" y="607.2" width="11.1" height="19" fill="#fff" stroke="#3f6db3" stroke-width="1.1"/><rect x="488.2" y="583.5" width="10.5" height="18.6" fill="#fff" stroke="#3f6db3" stroke-width="1.1"/><g stroke="#4a7ebb" stroke-width="1"><line x1="444.2" y1="575.9" x2="464.1" y2="566.4"/><line x1="449.5" y1="609.5" x2="463.5" y2="616.7"/><line x1="474.6" y1="567.3" x2="488.2" y2="593"/><line x1="474.6" y1="616.7" x2="488.2" y2="593"/><line x1="498.7" y1="592.3" x2="526.4" y2="592.3"/><line x1="614" y1="596.8" x2="630.4" y2="596.8"/></g><path d="M526.4,576.5 L526.4,607.7 A17.6,4.5 0 0 0 561.6,607.7 L561.6,576.5" fill="none" stroke="#3d6596" stroke-width="1"/><ellipse cx="544" cy="576.5" rx="17.6" ry="4.5" fill="none" stroke="#3d6596" stroke-width="1"/><g transform="translate(528.2,584) scale(1.01,0.99)" fill="#3d6596" stroke="none"><path d="M7.5,4.6 L10.6,4.6 C13.5,4.6 13.8,6.5 15.5,12 C17.2,17.5 17.5,19.4 20.4,19.4 L23.5,19.4" fill="none" stroke="#3d6596" stroke-width="3.5"/><path d="M7.5,19.4 L10.6,19.4 C13.5,19.4 13.8,17.5 15.5,12 C17.2,6.5 17.5,4.6 20.4,4.6 L23.5,4.6" fill="none" stroke="#3d6596" stroke-width="3.5"/><polygon points="0,4.6 8.8,0 8.8,9.2"/><polygon points="31,19.4 22.2,14.8 22.2,24"/><polygon points="0,19.4 8.8,14.8 8.8,24"/><polygon points="31,4.6 22.2,0 22.2,9.2"/></g><path d="M577.2,576.5 L577.2,607.7 A18.3,4.5 0 0 0 613.8,607.7 L613.8,576.5" fill="none" stroke="#3d6596" stroke-width="1"/><ellipse cx="595.5" cy="576.5" rx="18.3" ry="4.5" fill="none" stroke="#3d6596" stroke-width="1"/><g transform="translate(579,584) scale(1.06,0.99)" fill="#3d6596" stroke="none"><path d="M7.5,4.6 L10.6,4.6 C13.5,4.6 13.8,6.5 15.5,12 C17.2,17.5 17.5,19.4 20.4,19.4 L23.5,19.4" fill="none" stroke="#3d6596" stroke-width="3.5"/><path d="M7.5,19.4 L10.6,19.4 C13.5,19.4 13.8,17.5 15.5,12 C17.2,6.5 17.5,4.6 20.4,4.6 L23.5,4.6" fill="none" stroke="#3d6596" stroke-width="3.5"/><polygon points="0,4.6 8.8,0 8.8,9.2"/><polygon points="31,19.4 22.2,14.8 22.2,24"/><polygon points="0,19.4 8.8,14.8 8.8,24"/><polygon points="31,4.6 22.2,0 22.2,9.2"/></g><polygon points="630.4,579.3 642.3,567.4 677.6,567.4 665.7,579.3" fill="none" stroke="#3d6596" stroke-width="1" stroke-linejoin="round"/><polygon points="665.7,579.3 677.6,567.4 677.6,602.3 665.7,614.2" fill="rgba(150,150,150,0.5)" stroke="#3d6596" stroke-width="1" stroke-linejoin="round"/><rect x="630.4" y="579.3" width="35.3" height="34.9" fill="none" stroke="#3d6596" stroke-width="1"/><g transform="translate(632.9,585.5) scale(1,0.92)" fill="#3d6596" stroke="none"><path d="M7.5,4.6 L10.6,4.6 C13.5,4.6 13.8,6.5 15.5,12 C17.2,17.5 17.5,19.4 20.4,19.4 L23.5,19.4" fill="none" stroke="#3d6596" stroke-width="3.5"/><path d="M7.5,19.4 L10.6,19.4 C13.5,19.4 13.8,17.5 15.5,12 C17.2,6.5 17.5,4.6 20.4,4.6 L23.5,4.6" fill="none" stroke="#3d6596" stroke-width="3.5"/><polygon points="0,4.6 8.8,0 8.8,9.2"/><polygon points="31,19.4 22.2,14.8 22.2,24"/><polygon points="0,19.4 8.8,14.8 8.8,24"/><polygon points="31,4.6 22.2,0 22.2,9.2"/></g><polygon points="694.5,581.4 706.4,569.5 741.7,569.5 729.8,581.4" fill="none" stroke="#3d6596" stroke-width="1" stroke-linejoin="round"/><polygon points="729.8,581.4 741.7,569.5 741.7,604.3 729.8,616.2" fill="rgba(150,150,150,0.5)" stroke="#3d6596" stroke-width="1" stroke-linejoin="round"/><rect x="694.5" y="581.4" width="35.3" height="34.8" fill="none" stroke="#3d6596" stroke-width="1"/><g transform="translate(697,587.6) scale(1,0.92)" fill="#3d6596" stroke="none"><path d="M7.5,4.6 L10.6,4.6 C13.5,4.6 13.8,6.5 15.5,12 C17.2,17.5 17.5,19.4 20.4,19.4 L23.5,19.4" fill="none" stroke="#3d6596" stroke-width="3.5"/><path d="M7.5,19.4 L10.6,19.4 C13.5,19.4 13.8,17.5 15.5,12 C17.2,6.5 17.5,4.6 20.4,4.6 L23.5,4.6" fill="none" stroke="#3d6596" stroke-width="3.5"/><polygon points="0,4.6 8.8,0 8.8,9.2"/><polygon points="31,19.4 22.2,14.8 22.2,24"/><polygon points="0,19.4 8.8,14.8 8.8,24"/><polygon points="31,4.6 22.2,0 22.2,9.2"/></g><g transform="translate(495,548) scale(0.97,1)"><polygon points="0.5,5 5.5,3 5.5,19 0.5,17.5" fill="#1a1a1a"/><polygon points="5.5,3 7.5,3.6 7.5,18.5 5.5,19" fill="#555"/><polygon points="6.5,2 12.5,0 12.5,21 6.5,19" fill="#0c0c0c"/><polygon points="12.5,0 14.5,0.8 14.5,20.2 12.5,21" fill="#666"/><polygon points="13.5,3.5 18,2.2 18,19.5 13.5,18.5" fill="#151515"/><polygon points="18,2.2 19.6,3 19.6,18.6 18,19.5" fill="#6a6a6a"/><line x1="1.5" y1="11" x2="5" y2="11.6" stroke="#3d7fc0" stroke-width="0.6"/><line x1="7.5" y1="10.5" x2="12" y2="11.4" stroke="#3d7fc0" stroke-width="0.6"/><line x1="14.2" y1="10.5" x2="17.5" y2="11" stroke="#3d7fc0" stroke-width="0.6"/></g><g transform="translate(601,539.8) scale(0.99,0.91)"><polygon points="0.5,5 5.5,3 5.5,19 0.5,17.5" fill="#1a1a1a"/><polygon points="5.5,3 7.5,3.6 7.5,18.5 5.5,19" fill="#555"/><polygon points="6.5,2 12.5,0 12.5,21 6.5,19" fill="#0c0c0c"/><polygon points="12.5,0 14.5,0.8 14.5,20.2 12.5,21" fill="#666"/><polygon points="13.5,3.5 18,2.2 18,19.5 13.5,18.5" fill="#151515"/><polygon points="18,2.2 19.6,3 19.6,18.6 18,19.5" fill="#6a6a6a"/><line x1="1.5" y1="11" x2="5" y2="11.6" stroke="#3d7fc0" stroke-width="0.6"/><line x1="7.5" y1="10.5" x2="12" y2="11.4" stroke="#3d7fc0" stroke-width="0.6"/><line x1="14.2" y1="10.5" x2="17.5" y2="11" stroke="#3d7fc0" stroke-width="0.6"/></g><g transform="translate(744.4,546.9) scale(0.99,0.94)"><polygon points="0.5,5 5.5,3 5.5,19 0.5,17.5" fill="#1a1a1a"/><polygon points="5.5,3 7.5,3.6 7.5,18.5 5.5,19" fill="#555"/><polygon points="6.5,2 12.5,0 12.5,21 6.5,19" fill="#0c0c0c"/><polygon points="12.5,0 14.5,0.8 14.5,20.2 12.5,21" fill="#666"/><polygon points="13.5,3.5 18,2.2 18,19.5 13.5,18.5" fill="#151515"/><polygon points="18,2.2 19.6,3 19.6,18.6 18,19.5" fill="#6a6a6a"/><line x1="1.5" y1="11" x2="5" y2="11.6" stroke="#3d7fc0" stroke-width="0.6"/><line x1="7.5" y1="10.5" x2="12" y2="11.4" stroke="#3d7fc0" stroke-width="0.6"/><line x1="14.2" y1="10.5" x2="17.5" y2="11" stroke="#3d7fc0" stroke-width="0.6"/></g><text x="515.6" y="560.7" font-size="11.6" textLength="55.8" lengthAdjust="spacingAndGlyphs">Edge cloud</text><text x="625.6" y="552.5" font-size="11.6" textLength="55.8" lengthAdjust="spacingAndGlyphs">Edge cloud</text><text x="693.2" y="550.8" font-size="11.6" textLength="55.2" lengthAdjust="spacingAndGlyphs">Core cloud</text><text x="527.4" y="641.6" font-size="11.6" textLength="214.3" lengthAdjust="spacingAndGlyphs">Optical/Satellite, Metro and Core Networks</text><text x="402.5" y="640.8" font-size="11.6" textLength="44" lengthAdjust="spacingAndGlyphs">RAN and</text><text x="402" y="655.5" font-size="11.6" textLength="43.2" lengthAdjust="spacingAndGlyphs">wireless</text>
<rect x="274.9" y="300.6" width="505.7" height="363" fill="none" stroke="#1f4d8a" stroke-width="0.9" stroke-dasharray="2.6 1.3"/>
<defs><clipPath id="dashclip"><rect x="274.9" y="300.6" width="505.7" height="306"/><rect x="713.7" y="121.5" width="293.2" height="196"/><rect x="953.5" y="18.6" width="173.3" height="127"/></clipPath></defs>
<g stroke="#9fbbe2" stroke-width="1.1" stroke-dasharray="5.5 4.5" fill="none" clip-path="url(#dashclip)"><line x1="526.6" y1="674.5" x2="1072" y2="145"/><line x1="650" y1="674.5" x2="1105" y2="145"/></g>
<g stroke="#a9c0e0" stroke-width="0.7" fill="none" clip-path="url(#bandclip)"><line x1="526.6" y1="674.5" x2="1072" y2="145"/><line x1="650" y1="674.5" x2="1105" y2="145"/></g>
<polygon points="263.5,305.4 988,6 988,43 263.5,391" fill="none" stroke="#d98f8d" stroke-width="0.9" stroke-dasharray="6 2.6 1.4 2.6"/>
<ellipse cx="324.1" cy="519" rx="19.5" ry="12.2" fill="#fac090" stroke="#e36c0a" stroke-width="3"/><ellipse cx="565.2" cy="501.4" rx="19.5" ry="12.2" fill="#fac090" stroke="#e36c0a" stroke-width="3"/><ellipse cx="615.6" cy="510.4" rx="19.5" ry="12.2" fill="#fac090" stroke="#e36c0a" stroke-width="3"/><ellipse cx="686.1" cy="520.5" rx="19.5" ry="12.2" fill="#fac090" stroke="#e36c0a" stroke-width="3"/><polygon points="545.4,510.7 549.9,519.1 547.2,519.1 547.2,542.9 549.9,542.9 545.4,551.3 540.9,542.9 543.6,542.9 543.6,519.1 540.9,519.1" fill="#e36c0a"/><polygon points="588.4,510.7 592.9,519.1 590.2,519.1 590.2,542.9 592.9,542.9 588.4,551.3 583.9,542.9 586.6,542.9 586.6,519.1 583.9,519.1" fill="#e36c0a"/><polygon points="754.4,511 758.9,519.4 756.2,519.4 756.2,537.9 758.9,537.9 754.4,546.3 749.9,537.9 752.6,537.9 752.6,519.4 749.9,519.4" fill="#e36c0a"/><text x="299.8" y="500.9" font-size="13.2" textLength="101.7" lengthAdjust="spacingAndGlyphs">Virtual resources</text><path d="M308,506.5 C299,503 296.5,490 297.3,456" fill="none" stroke="#e36c0a" stroke-width="3"/><polygon points="297.3,447.5 302,457.5 292.6,457.5" fill="#e36c0a"/><path d="M394.1,615.1 C385.67,615.57 383.37,617.43 368.8,616.5 C354.23,615.57 361.1,616 350.4,612.3 C339.7,608.6 344.33,611.9 336.7,605.4 C329.07,598.9 332.1,603.13 327.5,592.8 C322.9,582.47 325,589.33 322.9,574.4 C320.8,559.47 321.77,556.8 321.2,548" fill="none" stroke="#e36c0a" stroke-width="3"/><polygon points="321,538.6 325.8,549 316.2,549" fill="#e36c0a"/><path d="M713.8,517.5 L729,517.5 C730,516 731.5,515 733,516.2 C734.5,514.6 736.4,515.6 736.6,517 C734.8,517.4 733.6,518.4 733,519.6 C731,523 727,524.2 722.5,524.2 C717.5,524.2 714.4,521.6 713.8,517.5 Z" fill="#2496d8"/><rect x="716.6" y="514.6" width="2.4" height="2.2" fill="#2496d8"/><rect x="719.5" y="514.6" width="2.4" height="2.2" fill="#2496d8"/><rect x="722.4" y="514.6" width="2.4" height="2.2" fill="#2496d8"/><rect x="725.3" y="514.6" width="2.4" height="2.2" fill="#2496d8"/><rect x="719.5" y="512" width="2.4" height="2.2" fill="#2496d8"/><rect x="722.4" y="512" width="2.4" height="2.2" fill="#2496d8"/><rect x="722.4" y="509.6" width="2.4" height="2.2" fill="#2496d8"/><text x="712.4" y="530.2" font-size="8.4" font-weight="bold" fill="#5a6d76" textLength="24.2" lengthAdjust="spacingAndGlyphs">docker</text><path d="M749.5,478 L751.5,476.4 L765.3,476.4 L765.3,489.6 L763.4,491.3 L749.5,491.3 Z M754.2,480.9 L754.2,486.8 L760.5,486.8 L760.5,480.9 Z" fill="#d0342c" fill-rule="evenodd"/><path d="M749.5,478 L751.5,476.4 L765.3,476.4 L763.4,478 Z" fill="#e8675c"/><text x="745" y="499.8" font-size="7.2" textLength="26.8" lengthAdjust="spacingAndGlyphs"><tspan fill="#7b7b7b">open</tspan><tspan fill="#9c3430">stack</tspan></text><rect x="745.4" y="501.8" width="26" height="2.4" fill="#e4e6ea"/><text x="747.4" y="504" font-size="2.2" fill="#8a8a8a" textLength="22" lengthAdjust="spacingAndGlyphs">CLOUD SOFTWARE</text>
<g stroke="#e36c0a" stroke-width="2" stroke-dasharray="8.8 5.3"><line x1="165.6" y1="440.9" x2="847" y2="440.9"/><line x1="161.8" y1="538" x2="842.4" y2="538"/></g>
<rect x="932.9" y="134.8" width="64" height="113.9" fill="none" stroke="#e36c0a" stroke-width="2.7"/>
<path d="M483,496.3 C512.67,471.03 512.9,470.8 572,420.5 C631.1,370.2 610.2,388.4 660.3,345.4 C710.4,302.4 679.07,331.1 722.3,291.5 C765.53,251.9 750.93,264.07 790,226.6 C829.07,189.13 813.1,204.17 839.5,179.1 C865.9,154.03 851.4,166.27 869.2,151.4 C887,136.53 877.07,143.77 892.9,134.5 C908.73,125.23 901.5,128.87 916.7,123.6 C931.9,118.33 923.33,120.97 938.5,118.7 C953.67,116.43 945.03,117.47 962.2,116.8 C979.37,116.13 971.23,116.73 990,116.7 C1008.77,116.67 1009,116.7 1018.5,116.7" fill="none" stroke="#e36c0a" stroke-width="6.4" stroke-dasharray="18.6 7.2" stroke-dashoffset="10.6"/>
<path d="M994.9,164.2 C999.17,167.83 999.33,164.17 1007.7,175.1 C1016.07,186.03 1012.9,181.7 1020,197 C1027.1,212.3 1024.5,201.2 1029,221 C1033.5,240.8 1033.93,236.97 1033.5,256.4 C1033.07,275.83 1034.3,266.57 1027.7,279.3 C1021.1,292.03 1026,286.53 1013.7,294.6 C1001.4,302.67 1008.7,297.6 990.8,303.5 C972.9,309.4 1000.67,305.13 960,312.3 C919.33,319.47 946.67,314.8 868.8,325 C790.93,335.2 773.87,336.93 726.4,342.9" fill="none" stroke="#e36c0a" stroke-width="6.4" stroke-dasharray="18.6 7.2" stroke-dashoffset="6"/>
<path d="M712.5,299.2 L655.1,270.6 M665.3,270.6 L655.1,270.6 L660.8,279" fill="none" stroke="#e36c0a" stroke-width="1"/>
<text x="277" y="294" font-size="13.4" font-weight="bold" textLength="89.5" lengthAdjust="spacingAndGlyphs">Site Facility A</text><text x="784.9" y="114.9" font-size="13.2" font-weight="bold" textLength="72.9" lengthAdjust="spacingAndGlyphs">Site Facility  B</text><text x="998.8" y="16.2" font-size="11.4" font-weight="bold" textLength="61.5" lengthAdjust="spacingAndGlyphs">Site Facility C</text><text x="164.5" y="325.6" font-size="13.2" font-weight="bold" fill="#e36c0a" textLength="89.7" lengthAdjust="spacingAndGlyphs">Facility Service</text><text x="222.4" y="342.8" font-size="13.2" font-weight="bold" fill="#e36c0a" textLength="31.8" lengthAdjust="spacingAndGlyphs">Level</text><text x="165.6" y="470.1" font-size="13.2" font-weight="bold" fill="#e36c0a" textLength="87.7" lengthAdjust="spacingAndGlyphs">Network Level</text><text x="146.5" y="486.9" font-size="13.2" font-weight="bold" fill="#e36c0a" textLength="106.8" lengthAdjust="spacingAndGlyphs">(Logical Network)</text><text x="189.2" y="589.9" font-size="13.2" font-weight="bold" fill="#e36c0a" textLength="74.8" lengthAdjust="spacingAndGlyphs">Resources &amp;</text><text x="165.6" y="607.2" font-size="13.2" font-weight="bold" fill="#e36c0a" textLength="98.4" lengthAdjust="spacingAndGlyphs">Functional Level</text><text x="578.3" y="274.6" font-size="13.2" font-weight="bold" fill="#e36c0a" textLength="54.2" lengthAdjust="spacingAndGlyphs">Facilities</text><text x="578.3" y="291.5" font-size="13.2" font-weight="bold" fill="#e36c0a" textLength="97.9" lengthAdjust="spacingAndGlyphs">Interconnection</text><text x="1048.5" y="284.9" font-size="13.2" font-weight="bold" fill="#e36c0a" textLength="54.2" lengthAdjust="spacingAndGlyphs">Facilities</text><text x="1048.5" y="302.2" font-size="13.2" font-weight="bold" fill="#e36c0a" textLength="79.1" lengthAdjust="spacingAndGlyphs">Interworking</text><text x="875.3" y="417.4" font-size="13.2" font-weight="bold" fill="#e36c0a" textLength="200.1" lengthAdjust="spacingAndGlyphs">Future Verticals [ICT 19]  enabled</text><text x="875.3" y="434" font-size="13.2" font-weight="bold" fill="#e36c0a" textLength="193.7" lengthAdjust="spacingAndGlyphs">by 5G-VINNI end-to-end facility</text><text x="519.5" y="685.9" font-size="10.6" textLength="126.9" lengthAdjust="spacingAndGlyphs">End-to-end Network slice</text><text x="277.5" y="96.5" font-size="13.4" font-weight="bold" textLength="136" lengthAdjust="spacingAndGlyphs">Phase I-II-III  projects</text><text x="195" y="147.5" font-size="13.4" font-weight="bold" textLength="122.5" lengthAdjust="spacingAndGlyphs">5GVINNI  partners</text><text x="225" y="166.5" font-size="13.4" font-weight="bold" textLength="61.5" lengthAdjust="spacingAndGlyphs">expertise</text><text x="10" y="178" font-size="13.4" font-weight="bold" textLength="108" lengthAdjust="spacingAndGlyphs">Standardization</text><text x="482.7" y="133.5" font-size="13.4" font-weight="bold" textLength="55.3" lengthAdjust="spacingAndGlyphs">5GVINNI</text><text x="461.6" y="152.5" font-size="13.4" font-weight="bold" textLength="101.2" lengthAdjust="spacingAndGlyphs">KPIs/Test Plans</text><text x="350.5" y="231" font-size="13.4" font-weight="bold" textLength="55.9" lengthAdjust="spacingAndGlyphs">5GVINNI</text><text x="329.7" y="249.6" font-size="13.4" font-weight="bold" textLength="102.7" lengthAdjust="spacingAndGlyphs">Advisory Board</text><g transform="translate(503.7,237.3) rotate(-25.2)"><text x="0" y="0" font-size="22.5" font-weight="bold" font-style="italic" fill="#e36c0a" textLength="182.5" lengthAdjust="spacingAndGlyphs">5GVINNI end-to-end</text></g><g transform="translate(507.1,266.7) rotate(-24.7)"><text x="0" y="0" font-size="22.5" font-weight="bold" font-style="italic" fill="#e36c0a" textLength="184" lengthAdjust="spacingAndGlyphs">Facility Service Level</text></g>
<path d="M859,436.5 C900,437 940,440 959,449.5 C975,459 1010,462 1064,463" fill="none" stroke="#4a7ebb" stroke-width="1"/>
<polyline points="1056.28,466.66 1064.5,463 1056.71,458.5" stroke="#4a7ebb" fill="none" stroke-width="1"/>
<defs><clipPath id="pclip"><rect x="63.5" y="0" width="240" height="165.7"/></clipPath></defs><g clip-path="url(#pclip)"><line x1="100" y1="42" x2="128" y2="33" stroke="#8a8a8a" stroke-width="1.4"/><line x1="160" y1="30" x2="206" y2="27.5" stroke="#8a8a8a" stroke-width="1.3"/><line x1="149" y1="35" x2="170" y2="53" stroke="#555" stroke-width="2.4"/><line x1="233" y1="30" x2="259" y2="52" stroke="#555" stroke-width="2.2"/><line x1="206" y1="57" x2="248" y2="57.3" stroke="#6a6a6a" stroke-width="1.4"/><line x1="87" y1="52" x2="106" y2="79" stroke="#4a4a4a" stroke-width="3"/><line x1="141" y1="76" x2="166" y2="62" stroke="#555" stroke-width="2"/><line x1="147" y1="91" x2="207" y2="104" stroke="#444" stroke-width="2.6"/><line x1="270" y1="63" x2="256" y2="99" stroke="#444" stroke-width="3.2"/><line x1="118" y1="97" x2="126" y2="136" stroke="#333" stroke-width="5.5"/><line x1="169" y1="141" x2="217" y2="122" stroke="#333" stroke-width="4"/><ellipse cx="84" cy="46.4" rx="20" ry="6" fill="#f4f4f4" stroke="#777" stroke-width="1.3"/><ellipse cx="143.6" cy="31.3" rx="17.8" ry="3.8" fill="#f4f4f4" stroke="#888" stroke-width="1.1"/><ellipse cx="221.8" cy="27" rx="17" ry="3.5" fill="#f4f4f4" stroke="#888" stroke-width="1"/><ellipse cx="182.6" cy="57" rx="23.8" ry="6" fill="#f4f4f4" stroke="#666" stroke-width="1.4"/><ellipse cx="272.4" cy="57.2" rx="24.5" ry="6.4" fill="#f4f4f4" stroke="#666" stroke-width="1.4"/><ellipse cx="117" cy="87" rx="31.8" ry="10.8" fill="#f4f4f4" stroke="#4a4a4a" stroke-width="2.2"/><ellipse cx="242" cy="111.8" rx="37.5" ry="14" fill="#f4f4f4" stroke="#444" stroke-width="2.8"/><ellipse cx="136" cy="162" rx="46.5" ry="26" fill="#f4f4f4" stroke="#333" stroke-width="4.2"/><circle cx="65" cy="25.04" r="2.04" fill="#b4cf2c"/><path d="M 62.96 27.32 L 67.04 27.32 Q 68.72 27.32 68.72 29 L 68.72 36.68 L 67.4 36.68 L 67.4 30.68 L 67.28 47 L 65 47 L 65 35.96 L 65 35.96 L 65 47 L 62.72 47 L 62.6 30.68 L 62.6 36.68 L 61.28 36.68 L 61.28 29 Q 61.28 27.32 62.96 27.32 Z" fill="#b4cf2c"/><circle cx="77.5" cy="23.21" r="2.21" fill="#b4cf2c"/><path d="M 75.29 25.68 L 79.71 25.68 Q 81.53 25.68 81.53 27.5 L 81.53 35.82 L 80.1 35.82 L 80.1 29.32 L 79.97 47 L 77.5 47 L 77.5 35.04 L 77.5 35.04 L 77.5 47 L 75.03 47 L 74.9 29.32 L 74.9 35.82 L 73.47 35.82 L 73.47 27.5 Q 73.47 25.68 75.29 25.68 Z" fill="#b4cf2c"/><circle cx="94.5" cy="23.12" r="2.12" fill="#b4cf2c"/><path d="M 92.38 25.5 L 96.62 25.5 Q 98.38 25.5 98.38 27.25 L 98.38 35.25 L 97 35.25 L 97 29 L 96.88 46 L 94.5 46 L 94.5 34.5 L 94.5 34.5 L 94.5 46 L 92.12 46 L 92 29 L 92 35.25 L 90.62 35.25 L 90.62 27.25 Q 90.62 25.5 92.38 25.5 Z" fill="#b4cf2c"/><circle cx="83" cy="26.21" r="2.21" fill="#b4cf2c"/><path d="M 80.79 28.68 L 85.21 28.68 Q 87.03 28.68 87.03 30.5 L 87.03 38.82 L 85.6 38.82 L 85.6 32.32 L 85.47 50 L 83 50 L 83 38.04 L 83 38.04 L 83 50 L 80.53 50 L 80.4 32.32 L 80.4 38.82 L 78.97 38.82 L 78.97 30.5 Q 78.97 28.68 80.79 28.68 Z" fill="#b4cf2c"/><circle cx="133.5" cy="11.87" r="1.87" fill="#2bb5dd"/><path d="M 131.63 13.96 L 135.37 13.96 Q 136.91 13.96 136.91 15.5 L 136.91 22.54 L 135.7 22.54 L 135.7 17.04 L 135.59 32 L 133.5 32 L 133.5 21.88 L 133.5 21.88 L 133.5 32 L 131.41 32 L 131.3 17.04 L 131.3 22.54 L 130.09 22.54 L 130.09 15.5 Q 130.09 13.96 131.63 13.96 Z" fill="#2bb5dd"/><circle cx="150" cy="10.87" r="1.87" fill="#2bb5dd"/><path d="M 148.13 12.96 L 151.87 12.96 Q 153.41 12.96 153.41 14.5 L 153.41 21.54 L 152.2 21.54 L 152.2 16.04 L 152.09 31 L 150 31 L 150 20.88 L 150 20.88 L 150 31 L 147.91 31 L 147.8 16.04 L 147.8 21.54 L 146.59 21.54 L 146.59 14.5 Q 146.59 12.96 148.13 12.96 Z" fill="#2bb5dd"/><circle cx="154.5" cy="12.87" r="1.87" fill="#2bb5dd"/><path d="M 152.63 14.96 L 156.37 14.96 Q 157.91 14.96 157.91 16.5 L 157.91 23.54 L 156.7 23.54 L 156.7 18.04 L 156.59 33 L 154.5 33 L 154.5 22.88 L 154.5 22.88 L 154.5 33 L 152.41 33 L 152.3 18.04 L 152.3 23.54 L 151.09 23.54 L 151.09 16.5 Q 151.09 14.96 152.63 14.96 Z" fill="#2bb5dd"/><circle cx="142.3" cy="13.46" r="1.96" fill="#2bb5dd"/><path d="M 140.35 15.64 L 144.25 15.64 Q 145.87 15.64 145.87 17.25 L 145.87 24.61 L 144.6 24.61 L 144.6 18.86 L 144.49 34.5 L 142.3 34.5 L 142.3 23.92 L 142.3 23.92 L 142.3 34.5 L 140.12 34.5 L 140 18.86 L 140 24.61 L 138.74 24.61 L 138.74 17.25 Q 138.74 15.64 140.35 15.64 Z" fill="#2bb5dd"/><circle cx="213.5" cy="9.2" r="1.7" fill="#a326d6"/><path d="M 211.8 11.1 L 215.2 11.1 Q 216.6 11.1 216.6 12.5 L 216.6 18.9 L 215.5 18.9 L 215.5 13.9 L 215.4 27.5 L 213.5 27.5 L 213.5 18.3 L 213.5 18.3 L 213.5 27.5 L 211.6 27.5 L 211.5 13.9 L 211.5 18.9 L 210.4 18.9 L 210.4 12.5 Q 210.4 11.1 211.8 11.1 Z" fill="#a326d6"/><circle cx="228.8" cy="8.2" r="1.7" fill="#a326d6"/><path d="M 227.1 10.1 L 230.5 10.1 Q 231.9 10.1 231.9 11.5 L 231.9 17.9 L 230.8 17.9 L 230.8 12.9 L 230.7 26.5 L 228.8 26.5 L 228.8 17.3 L 228.8 17.3 L 228.8 26.5 L 226.9 26.5 L 226.8 12.9 L 226.8 17.9 L 225.7 17.9 L 225.7 11.5 Q 225.7 10.1 227.1 10.1 Z" fill="#a326d6"/><circle cx="233" cy="9.79" r="1.79" fill="#a326d6"/><path d="M 231.22 11.78 L 234.78 11.78 Q 236.25 11.78 236.25 13.25 L 236.25 19.97 L 235.1 19.97 L 235.1 14.72 L 235 29 L 233 29 L 233 19.34 L 233 19.34 L 233 29 L 231 29 L 230.9 14.72 L 230.9 19.97 L 229.75 19.97 L 229.75 13.25 Q 229.75 11.78 231.22 11.78 Z" fill="#a326d6"/><circle cx="222.4" cy="10.29" r="1.79" fill="#a326d6"/><path d="M 220.62 12.28 L 224.19 12.28 Q 225.66 12.28 225.66 13.75 L 225.66 20.47 L 224.5 20.47 L 224.5 15.22 L 224.4 29.5 L 222.4 29.5 L 222.4 19.84 L 222.4 19.84 L 222.4 29.5 L 220.41 29.5 L 220.3 15.22 L 220.3 20.47 L 219.15 20.47 L 219.15 13.75 Q 219.15 12.28 220.62 12.28 Z" fill="#a326d6"/><circle cx="170" cy="31.3" r="2.3" fill="#f26f12"/><path d="M 167.7 33.86 L 172.3 33.86 Q 174.19 33.86 174.19 35.75 L 174.19 44.39 L 172.7 44.39 L 172.7 37.64 L 172.56 56 L 170 56 L 170 43.58 L 170 43.58 L 170 56 L 167.44 56 L 167.3 37.64 L 167.3 44.39 L 165.81 44.39 L 165.81 35.75 Q 165.81 33.86 167.7 33.86 Z" fill="#f26f12"/><circle cx="187" cy="28.46" r="2.47" fill="#f26f12"/><path d="M 184.53 31.22 L 189.47 31.22 Q 191.5 31.22 191.5 33.25 L 191.5 42.53 L 189.9 42.53 L 189.9 35.28 L 189.75 55 L 187 55 L 187 41.66 L 187 41.66 L 187 55 L 184.25 55 L 184.1 35.28 L 184.1 42.53 L 182.5 42.53 L 182.5 33.25 Q 182.5 31.22 184.53 31.22 Z" fill="#f26f12"/><circle cx="197" cy="33.38" r="2.38" fill="#f26f12"/><path d="M 194.62 36.04 L 199.38 36.04 Q 201.34 36.04 201.34 38 L 201.34 46.96 L 199.8 46.96 L 199.8 39.96 L 199.66 59 L 197 59 L 197 46.12 L 197 46.12 L 197 59 L 194.34 59 L 194.2 39.96 L 194.2 46.96 L 192.66 46.96 L 192.66 38 Q 192.66 36.04 194.62 36.04 Z" fill="#f26f12"/><circle cx="179" cy="34.05" r="2.55" fill="#f26f12"/><path d="M 176.45 36.9 L 181.55 36.9 Q 183.65 36.9 183.65 39 L 183.65 48.6 L 182 48.6 L 182 41.1 L 181.85 61.5 L 179 61.5 L 179 47.7 L 179 47.7 L 179 61.5 L 176.15 61.5 L 176 41.1 L 176 48.6 L 174.35 48.6 L 174.35 39 Q 174.35 36.9 176.45 36.9 Z" fill="#f26f12"/><circle cx="257" cy="31.3" r="2.3" fill="#f3c318"/><path d="M 254.7 33.86 L 259.3 33.86 Q 261.19 33.86 261.19 35.75 L 261.19 44.39 L 259.7 44.39 L 259.7 37.64 L 259.56 56 L 257 56 L 257 43.58 L 257 43.58 L 257 56 L 254.44 56 L 254.3 37.64 L 254.3 44.39 L 252.81 44.39 L 252.81 35.75 Q 252.81 33.86 254.7 33.86 Z" fill="#f3c318"/><circle cx="277" cy="28.46" r="2.47" fill="#f3c318"/><path d="M 274.53 31.22 L 279.47 31.22 Q 281.5 31.22 281.5 33.25 L 281.5 42.53 L 279.9 42.53 L 279.9 35.28 L 279.75 55 L 277 55 L 277 41.66 L 277 41.66 L 277 55 L 274.25 55 L 274.1 35.28 L 274.1 42.53 L 272.5 42.53 L 272.5 33.25 Q 272.5 31.22 274.53 31.22 Z" fill="#f3c318"/><circle cx="288.5" cy="33.47" r="2.47" fill="#f3c318"/><path d="M 286.03 36.22 L 290.97 36.22 Q 293 36.22 293 38.25 L 293 47.53 L 291.4 47.53 L 291.4 40.28 L 291.25 60 L 288.5 60 L 288.5 46.66 L 288.5 46.66 L 288.5 60 L 285.75 60 L 285.6 40.28 L 285.6 47.53 L 284 47.53 L 284 38.25 Q 284 36.22 286.03 36.22 Z" fill="#f3c318"/><circle cx="267" cy="34.47" r="2.47" fill="#f3c318"/><path d="M 264.53 37.22 L 269.47 37.22 Q 271.5 37.22 271.5 39.25 L 271.5 48.53 L 269.9 48.53 L 269.9 41.28 L 269.75 61 L 267 61 L 267 47.66 L 267 47.66 L 267 61 L 264.25 61 L 264.1 41.28 L 264.1 48.53 L 262.5 48.53 L 262.5 39.25 Q 262.5 37.22 264.53 37.22 Z" fill="#f3c318"/><circle cx="273" cy="34.05" r="2.55" fill="#f3c318"/><path d="M 270.45 36.9 L 275.55 36.9 Q 277.65 36.9 277.65 39 L 277.65 48.6 L 276 48.6 L 276 41.1 L 275.85 61.5 L 273 61.5 L 273 47.7 L 273 47.7 L 273 61.5 L 270.15 61.5 L 270 41.1 L 270 48.6 L 268.35 48.6 L 268.35 39 Q 268.35 36.9 270.45 36.9 Z" fill="#f3c318"/><circle cx="93" cy="56.23" r="3.23" fill="#1d9412"/><path d="M 89.77 59.84 L 96.23 59.84 Q 98.89 59.84 98.89 62.5 L 98.89 74.66 L 96.8 74.66 L 96.8 65.16 L 96.61 91 L 93 91 L 93 73.52 L 93 73.52 L 93 91 L 89.39 91 L 89.2 65.16 L 89.2 74.66 L 87.11 74.66 L 87.11 62.5 Q 87.11 59.84 89.77 59.84 Z" fill="#1d9412"/><circle cx="112" cy="50.4" r="3.4" fill="#1d9412"/><path d="M 108.6 54.2 L 115.4 54.2 Q 118.2 54.2 118.2 57 L 118.2 69.8 L 116 69.8 L 116 59.8 L 115.8 87 L 112 87 L 112 68.6 L 112 68.6 L 112 87 L 108.2 87 L 108 59.8 L 108 69.8 L 105.8 69.8 L 105.8 57 Q 105.8 54.2 108.6 54.2 Z" fill="#1d9412"/><circle cx="136" cy="54.89" r="2.89" fill="#1d9412"/><path d="M 133.11 58.12 L 138.89 58.12 Q 141.27 58.12 141.27 60.5 L 141.27 71.38 L 139.4 71.38 L 139.4 62.88 L 139.23 86 L 136 86 L 136 70.36 L 136 70.36 L 136 86 L 132.77 86 L 132.6 62.88 L 132.6 71.38 L 130.73 71.38 L 130.73 60.5 Q 130.73 58.12 133.11 58.12 Z" fill="#1d9412"/><circle cx="122" cy="61.06" r="3.06" fill="#1d9412"/><path d="M 118.94 64.48 L 125.06 64.48 Q 127.58 64.48 127.58 67 L 127.58 78.52 L 125.6 78.52 L 125.6 69.52 L 125.42 94 L 122 94 L 122 77.44 L 122 77.44 L 122 94 L 118.58 94 L 118.4 69.52 L 118.4 78.52 L 116.42 78.52 L 116.42 67 Q 116.42 64.48 118.94 64.48 Z" fill="#1d9412"/><circle cx="116" cy="55.4" r="3.4" fill="#1d9412"/><path d="M 112.6 59.2 L 119.4 59.2 Q 122.2 59.2 122.2 62 L 122.2 74.8 L 120 74.8 L 120 64.8 L 119.8 92 L 116 92 L 116 73.6 L 116 73.6 L 116 92 L 112.2 92 L 112 64.8 L 112 74.8 L 109.8 74.8 L 109.8 62 Q 109.8 59.2 112.6 59.2 Z" fill="#1d9412"/><circle cx="222" cy="72.23" r="3.23" fill="#1445d6"/><path d="M 218.77 75.84 L 225.23 75.84 Q 227.89 75.84 227.89 78.5 L 227.89 90.66 L 225.8 90.66 L 225.8 81.16 L 225.61 107 L 222 107 L 222 89.52 L 222 89.52 L 222 107 L 218.39 107 L 218.2 81.16 L 218.2 90.66 L 216.11 90.66 L 216.11 78.5 Q 216.11 75.84 218.77 75.84 Z" fill="#1445d6"/><circle cx="251.6" cy="70.23" r="3.23" fill="#1445d6"/><path d="M 248.37 73.84 L 254.83 73.84 Q 257.49 73.84 257.49 76.5 L 257.49 88.66 L 255.4 88.66 L 255.4 79.16 L 255.21 105 L 251.6 105 L 251.6 87.52 L 251.6 87.52 L 251.6 105 L 247.99 105 L 247.8 79.16 L 247.8 88.66 L 245.71 88.66 L 245.71 76.5 Q 245.71 73.84 248.37 73.84 Z" fill="#1445d6"/><circle cx="264" cy="83.23" r="3.23" fill="#1445d6"/><path d="M 260.77 86.84 L 267.23 86.84 Q 269.89 86.84 269.89 89.5 L 269.89 101.66 L 267.8 101.66 L 267.8 92.16 L 267.61 118 L 264 118 L 264 100.52 L 264 100.52 L 264 118 L 260.39 118 L 260.2 92.16 L 260.2 101.66 L 258.11 101.66 L 258.11 89.5 Q 258.11 86.84 260.77 86.84 Z" fill="#1445d6"/><circle cx="244" cy="76.4" r="3.4" fill="#1445d6"/><path d="M 240.6 80.2 L 247.4 80.2 Q 250.2 80.2 250.2 83 L 250.2 95.8 L 248 95.8 L 248 85.8 L 247.8 113 L 244 113 L 244 94.6 L 244 94.6 L 244 113 L 240.2 113 L 240 85.8 L 240 95.8 L 237.8 95.8 L 237.8 83 Q 237.8 80.2 240.6 80.2 Z" fill="#1445d6"/><circle cx="236" cy="82.57" r="3.57" fill="#1445d6"/><path d="M 232.43 86.56 L 239.57 86.56 Q 242.51 86.56 242.51 89.5 L 242.51 102.94 L 240.2 102.94 L 240.2 92.44 L 239.99 121 L 236 121 L 236 101.68 L 236 101.68 L 236 121 L 232.01 121 L 231.8 92.44 L 231.8 102.94 L 229.49 102.94 L 229.49 89.5 Q 229.49 86.56 232.43 86.56 Z" fill="#1445d6"/><circle cx="110" cy="104.42" r="4.42" fill="#f31a0a"/><path d="M 105.58 109.36 L 114.42 109.36 Q 118.06 109.36 118.06 113 L 118.06 129.64 L 115.2 129.64 L 115.2 116.64 L 114.94 152 L 110 152 L 110 128.08 L 110 128.08 L 110 152 L 105.06 152 L 104.8 116.64 L 104.8 129.64 L 101.94 129.64 L 101.94 113 Q 101.94 109.36 105.58 109.36 Z" fill="#f31a0a"/><circle cx="146" cy="98.59" r="4.59" fill="#f31a0a"/><path d="M 141.41 103.72 L 150.59 103.72 Q 154.37 103.72 154.37 107.5 L 154.37 124.78 L 151.4 124.78 L 151.4 111.28 L 151.13 148 L 146 148 L 146 123.16 L 146 123.16 L 146 148 L 140.87 148 L 140.6 111.28 L 140.6 124.78 L 137.63 124.78 L 137.63 107.5 Q 137.63 103.72 141.41 103.72 Z" fill="#f31a0a"/><circle cx="132" cy="110.25" r="4.25" fill="#f31a0a"/><path d="M 127.75 115 L 136.25 115 Q 139.75 115 139.75 118.5 L 139.75 134.5 L 137 134.5 L 137 122 L 136.75 156 L 132 156 L 132 133 L 132 133 L 132 156 L 127.25 156 L 127 122 L 127 134.5 L 124.25 134.5 L 124.25 118.5 Q 124.25 115 127.75 115 Z" fill="#f31a0a"/><circle cx="160" cy="116.76" r="4.76" fill="#f31a0a"/><path d="M 155.24 122.08 L 164.76 122.08 Q 168.68 122.08 168.68 126 L 168.68 143.92 L 165.6 143.92 L 165.6 129.92 L 165.32 168 L 160 168 L 160 142.24 L 160 142.24 L 160 168 L 154.68 168 L 154.4 129.92 L 154.4 143.92 L 151.32 143.92 L 151.32 126 Q 151.32 122.08 155.24 122.08 Z" fill="#f31a0a"/><circle cx="117" cy="116.76" r="4.76" fill="#f31a0a"/><path d="M 112.24 122.08 L 121.76 122.08 Q 125.68 122.08 125.68 126 L 125.68 143.92 L 122.6 143.92 L 122.6 129.92 L 122.32 168 L 117 168 L 117 142.24 L 117 142.24 L 117 168 L 111.68 168 L 111.4 129.92 L 111.4 143.92 L 108.32 143.92 L 108.32 126 Q 108.32 122.08 112.24 122.08 Z" fill="#f31a0a"/></g>
<rect x="4.4" y="37.4" width="56.4" height="43" rx="3" fill="#fff" stroke="#2f55b4" stroke-width="0.9"/><path d="M9,50 C9,45 13,42 18.5,42 C14,44 12.5,47 13,50.5 Z" fill="#2d9be0"/><path d="M46,74.5 C52,73.5 56.5,70 56,64.5 C58.5,70 55,76 46,76 Z" fill="#1d2f8f"/><text x="16.4" y="67.2" font-size="25" font-weight="bold" font-style="italic" textLength="31.6" lengthAdjust="spacingAndGlyphs"><tspan fill="#1d2f8f">5</tspan><tspan fill="#1e7fd4">G</tspan></text><text x="22.9" y="76.6" font-size="7" font-weight="bold" fill="#3b8fd9" textLength="18" lengthAdjust="spacingAndGlyphs">PPP</text><text x="21" y="110.8" font-size="18" font-weight="bold" font-style="italic" textLength="23.5" lengthAdjust="spacingAndGlyphs">3G</text><text x="45.7" y="113.6" font-size="24.5" fill="none" textLength="18" lengthAdjust="spacingAndGlyphs" stroke="#000" stroke-width="0.8">PP</text><circle cx="42.6" cy="112.5" r="1.2" fill="#d8506c"/><text x="21" y="119.6" font-size="3" font-weight="bold" fill="#333" textLength="43" lengthAdjust="spacingAndGlyphs">A GLOBAL INITIATIVE</text><ellipse cx="57.2" cy="144.4" rx="22" ry="9.2" fill="none" stroke="#5aa6e6" stroke-width="0.8"/><ellipse cx="57.2" cy="144.4" rx="19.5" ry="7.9" fill="none" stroke="#5aa6e6" stroke-width="0.8"/><ellipse cx="57.2" cy="144.4" rx="17" ry="6.6" fill="none" stroke="#5aa6e6" stroke-width="0.8"/><ellipse cx="57.2" cy="144.4" rx="14.5" ry="5.3" fill="none" stroke="#5aa6e6" stroke-width="0.8"/><path d="M44,145.5 C44,141 50,140 58,140 L70,140 M70.5,143.6 C70.5,148 64,149 57,149 L45,149 M44,145.5 L70.5,143.6" fill="none" stroke="#1c4f9c" stroke-width="0.9"/><text x="16.8" y="145.3" font-size="9.2" font-weight="bold" font-style="italic" fill="#1760b4" textLength="19.4" lengthAdjust="spacingAndGlyphs">ETSI</text><text x="83" y="145.6" font-size="3.4" font-weight="bold" fill="#2a6fc0" textLength="8" lengthAdjust="spacingAndGlyphs">NFV</text>
<defs><linearGradient id="ga" x1="0" y1="0" x2="1" y2="1"><stop offset="0" stop-color="#a0c456"/><stop offset="1" stop-color="#86ae3a"/></linearGradient><filter id="sh" x="-20%" y="-20%" width="140%" height="150%"><feGaussianBlur in="SourceAlpha" stdDeviation="1.6"/><feOffset dx="1" dy="2.5"/><feComponentTransfer><feFuncA type="linear" slope="0.35"/></feComponentTransfer><feMerge><feMergeNode/><feMergeNode in="SourceGraphic"/></feMerge></filter></defs><path d="M344.1,54.1 L361.5,36.3 L363.5,45.5 C395,44 428,58 444.6,82.6 C424,67 394,61 365.5,63.5 L366.5,71.2 Z" fill="url(#ga)" filter="url(#sh)"/><path d="M255,177.3 C262,205 286,225 313.5,232 L316.1,226.6 L329.5,249.5 L303.2,259.4 L305.8,251.6 C276,244 252,215 255,177.3 Z" fill="url(#ga)" filter="url(#sh)"/><path d="M431.8,238.1 C458,232 480,208 482.5,176.5 L475.8,172.8 L500.5,159.6 L510.6,181.4 L503.2,180.3 C499,215 470,238 431.8,238.1 Z" fill="url(#ga)" filter="url(#sh)"/>
<defs><linearGradient id="cyl" x1="0" y1="0" x2="0" y2="1"><stop offset="0" stop-color="#e6f6bd"/><stop offset="1" stop-color="#cbed8c"/></linearGradient></defs><path d="M488,49.4 L488,100.7 A34.55,13.2 0 0 0 557.1,100.7 L557.1,49.4 Z" fill="url(#cyl)" stroke="#9cc63e" stroke-width="1" filter="url(#sh)"/><ellipse cx="522.55" cy="49.4" rx="34.55" ry="13.2" fill="#e3f5b6" stroke="#9cc63e" stroke-width="1"/><g transform="translate(526.4,11.4)"><rect x="0" y="0" width="63" height="60.3" fill="#fff"/><path d="M0.6,0 L0.6,59.8 L63,59.8" fill="none" stroke="#a9bad6" stroke-width="1.2"/><rect x="3.5" y="4.5" width="11" height="5" fill="none" stroke="#b8c9e2" stroke-width="0.5"/><rect x="3.5" y="16" width="11" height="5" fill="none" stroke="#b8c9e2" stroke-width="0.5"/><rect x="3.5" y="24.5" width="11" height="5" fill="none" stroke="#b8c9e2" stroke-width="0.5"/><rect x="3" y="30.5" width="12.5" height="10.5" fill="none" stroke="#b8c9e2" stroke-width="0.5"/><line x1="3.5" y1="10" x2="15.5" y2="10" stroke="#9db6d8" stroke-width="0.5"/><path d="M15,10 C24,10.5 30,14 32,18" fill="none" stroke="#9db6d8" stroke-width="0.5"/><line x1="40" y1="13.6" x2="62" y2="13.6" stroke="#b8c9e2" stroke-width="0.5"/><line x1="44" y1="3.2" x2="62" y2="3.2" stroke="#8a7aa0" stroke-width="0.5" stroke-dasharray="1.5 0.7"/><line x1="47" y1="15.5" x2="60" y2="15.5" stroke="#a08a7a" stroke-width="0.4" stroke-dasharray="1.2 0.6"/><line x1="6" y1="5.6" x2="12" y2="5.6" stroke="#a08a5a" stroke-width="0.5"/><line x1="6.5" y1="18" x2="12" y2="18" stroke="#6a7aa0" stroke-width="0.5"/><line x1="7" y1="26.6" x2="11" y2="26.6" stroke="#b08a5a" stroke-width="0.5"/><rect x="4" y="40" width="2.6" height="2.6" fill="#111"/><line x1="8" y1="41" x2="14" y2="41" stroke="#806a6a" stroke-width="0.5"/><rect x="7.5" y="44" width="7" height="7" fill="#eef3fa" stroke="#7f9ac4" stroke-width="0.6"/><path d="M9,45.7 L13,49.7 M13,45.7 L9,49.7" stroke="#3d6596" stroke-width="0.9" fill="none"/><line x1="8" y1="55.5" x2="15" y2="55.5" stroke="#a08a9a" stroke-width="0.4"/></g><g transform="translate(542.3,27.3)"><rect x="0" y="0" width="63" height="60.3" fill="#fff"/><path d="M0.6,0 L0.6,59.8 L63,59.8" fill="none" stroke="#a9bad6" stroke-width="1.2"/><rect x="3.5" y="4.5" width="11" height="5" fill="none" stroke="#b8c9e2" stroke-width="0.5"/><rect x="3.5" y="16" width="11" height="5" fill="none" stroke="#b8c9e2" stroke-width="0.5"/><rect x="3.5" y="24.5" width="11" height="5" fill="none" stroke="#b8c9e2" stroke-width="0.5"/><rect x="3" y="30.5" width="12.5" height="10.5" fill="none" stroke="#b8c9e2" stroke-width="0.5"/><line x1="3.5" y1="10" x2="15.5" y2="10" stroke="#9db6d8" stroke-width="0.5"/><path d="M15,10 C24,10.5 30,14 32,18" fill="none" stroke="#9db6d8" stroke-width="0.5"/><line x1="40" y1="13.6" x2="62" y2="13.6" stroke="#b8c9e2" stroke-width="0.5"/><line x1="44" y1="3.2" x2="62" y2="3.2" stroke="#8a7aa0" stroke-width="0.5" stroke-dasharray="1.5 0.7"/><line x1="47" y1="15.5" x2="60" y2="15.5" stroke="#a08a7a" stroke-width="0.4" stroke-dasharray="1.2 0.6"/><line x1="6" y1="5.6" x2="12" y2="5.6" stroke="#a08a5a" stroke-width="0.5"/><line x1="6.5" y1="18" x2="12" y2="18" stroke="#6a7aa0" stroke-width="0.5"/><line x1="7" y1="26.6" x2="11" y2="26.6" stroke="#b08a5a" stroke-width="0.5"/><rect x="4" y="40" width="2.6" height="2.6" fill="#111"/><line x1="8" y1="41" x2="14" y2="41" stroke="#806a6a" stroke-width="0.5"/><rect x="7.5" y="44" width="7" height="7" fill="#eef3fa" stroke="#7f9ac4" stroke-width="0.6"/><path d="M9,45.7 L13,49.7 M13,45.7 L9,49.7" stroke="#3d6596" stroke-width="0.9" fill="none"/><line x1="8" y1="55.5" x2="15" y2="55.5" stroke="#a08a9a" stroke-width="0.4"/></g><g transform="translate(558.2,43.2)"><rect x="0" y="0" width="63" height="60.3" fill="#fff"/><path d="M0.6,0 L0.6,59.8 L63,59.8" fill="none" stroke="#a9bad6" stroke-width="1.2"/><rect x="3.5" y="4.5" width="11" height="5" fill="none" stroke="#b8c9e2" stroke-width="0.5"/><rect x="3.5" y="16" width="11" height="5" fill="none" stroke="#b8c9e2" stroke-width="0.5"/><rect x="3.5" y="24.5" width="11" height="5" fill="none" stroke="#b8c9e2" stroke-width="0.5"/><rect x="3" y="30.5" width="12.5" height="10.5" fill="none" stroke="#b8c9e2" stroke-width="0.5"/><line x1="3.5" y1="10" x2="15.5" y2="10" stroke="#9db6d8" stroke-width="0.5"/><path d="M15,10 C24,10.5 30,14 32,18" fill="none" stroke="#9db6d8" stroke-width="0.5"/><line x1="40" y1="13.6" x2="62" y2="13.6" stroke="#b8c9e2" stroke-width="0.5"/><line x1="44" y1="3.2" x2="62" y2="3.2" stroke="#8a7aa0" stroke-width="0.5" stroke-dasharray="1.5 0.7"/><line x1="47" y1="15.5" x2="60" y2="15.5" stroke="#a08a7a" stroke-width="0.4" stroke-dasharray="1.2 0.6"/><line x1="6" y1="5.6" x2="12" y2="5.6" stroke="#a08a5a" stroke-width="0.5"/><line x1="6.5" y1="18" x2="12" y2="18" stroke="#6a7aa0" stroke-width="0.5"/><line x1="7" y1="26.6" x2="11" y2="26.6" stroke="#b08a5a" stroke-width="0.5"/><rect x="4" y="40" width="2.6" height="2.6" fill="#111"/><line x1="8" y1="41" x2="14" y2="41" stroke="#806a6a" stroke-width="0.5"/><rect x="7.5" y="44" width="7" height="7" fill="#eef3fa" stroke="#7f9ac4" stroke-width="0.6"/><path d="M9,45.7 L13,49.7 M13,45.7 L9,49.7" stroke="#3d6596" stroke-width="0.9" fill="none"/><line x1="8" y1="55.5" x2="15" y2="55.5" stroke="#a08a9a" stroke-width="0.4"/></g><g transform="translate(574.1,59.1)"><rect x="0" y="0" width="63" height="60.3" fill="#fff"/><path d="M0.6,0 L0.6,59.8 L63,59.8" fill="none" stroke="#a9bad6" stroke-width="1.2"/><rect x="3.5" y="4.5" width="11" height="5" fill="none" stroke="#b8c9e2" stroke-width="0.5"/><rect x="3.5" y="16" width="11" height="5" fill="none" stroke="#b8c9e2" stroke-width="0.5"/><rect x="3.5" y="24.5" width="11" height="5" fill="none" stroke="#b8c9e2" stroke-width="0.5"/><rect x="3" y="30.5" width="58" height="10.5" fill="none" stroke="#b8c9e2" stroke-width="0.5"/><line x1="3.5" y1="10" x2="50" y2="10" stroke="#9db6d8" stroke-width="0.5"/><path d="M15,10 C24,10.5 30,14 32,18" fill="none" stroke="#9db6d8" stroke-width="0.5"/><line x1="40" y1="13.6" x2="62" y2="13.6" stroke="#b8c9e2" stroke-width="0.5"/><line x1="44" y1="3.2" x2="62" y2="3.2" stroke="#8a7aa0" stroke-width="0.5" stroke-dasharray="1.5 0.7"/><line x1="47" y1="15.5" x2="60" y2="15.5" stroke="#a08a7a" stroke-width="0.4" stroke-dasharray="1.2 0.6"/><line x1="6" y1="5.6" x2="12" y2="5.6" stroke="#a08a5a" stroke-width="0.5"/><line x1="6.5" y1="18" x2="12" y2="18" stroke="#6a7aa0" stroke-width="0.5"/><line x1="7" y1="26.6" x2="11" y2="26.6" stroke="#b08a5a" stroke-width="0.5"/><rect x="4" y="40" width="2.6" height="2.6" fill="#111"/><line x1="8" y1="41" x2="14" y2="41" stroke="#806a6a" stroke-width="0.5"/><rect x="7.5" y="44" width="7" height="7" fill="#eef3fa" stroke="#7f9ac4" stroke-width="0.6"/><path d="M9,45.7 L13,49.7 M13,45.7 L9,49.7" stroke="#3d6596" stroke-width="0.9" fill="none"/><line x1="8" y1="55.5" x2="15" y2="55.5" stroke="#a08a9a" stroke-width="0.4"/><rect x="20" y="44" width="7" height="7" fill="#eef3fa" stroke="#7f9ac4" stroke-width="0.6"/><path d="M21.5,45.7 l4,4 m0,-4 l-4,4" stroke="#3d6596" stroke-width="0.9" fill="none"/><rect x="30.5" y="44" width="7" height="7" fill="#eef3fa" stroke="#7f9ac4" stroke-width="0.6"/><path d="M32,45.7 l4,4 m0,-4 l-4,4" stroke="#3d6596" stroke-width="0.9" fill="none"/><rect x="39.5" y="44" width="7" height="7" fill="#eef3fa" stroke="#7f9ac4" stroke-width="0.6"/><path d="M41,45.7 l4,4 m0,-4 l-4,4" stroke="#3d6596" stroke-width="0.9" fill="none"/><rect x="26.5" y="39.5" width="3" height="3" fill="#111"/><rect x="44" y="40.5" width="3" height="3" fill="#111"/><ellipse cx="43.5" cy="35.5" rx="2.8" ry="1.6" fill="#8fcbdc" stroke="#5a9ab8" stroke-width="0.3"/><ellipse cx="50.5" cy="33" rx="2.8" ry="1.6" fill="#8fcbdc" stroke="#5a9ab8" stroke-width="0.3"/><ellipse cx="58.5" cy="34.5" rx="2.8" ry="1.6" fill="#8fcbdc" stroke="#5a9ab8" stroke-width="0.3"/><ellipse cx="45" cy="18.5" rx="2.6" ry="1.3" fill="#dcecf4" stroke="#9ab8d0" stroke-width="0.3"/><ellipse cx="51" cy="18.5" rx="2.6" ry="1.3" fill="#dcecf4" stroke="#9ab8d0" stroke-width="0.3"/><ellipse cx="57" cy="18.5" rx="2.6" ry="1.3" fill="#dcecf4" stroke="#9ab8d0" stroke-width="0.3"/><rect x="40.5" y="15.5" width="21" height="5.5" fill="none" stroke="#b8c9e2" stroke-width="0.4"/><path d="M15,10 C32,11 41,20 43.5,34 M15,18 C30,18.5 40,24 43.5,34" fill="none" stroke="#9db6d8" stroke-width="0.5"/><line x1="8" y1="55.5" x2="42" y2="55.5" stroke="#a8a0b8" stroke-width="0.5"/><path d="M57,43 l-1.3,5 h2.6 Z M60.5,45 l-1.3,5 h2.6 Z" fill="#333"/><line x1="55" y1="55.5" x2="62" y2="55.5" stroke="#999" stroke-width="0.4"/><line x1="23" y1="34" x2="38" y2="34" stroke="#8a8a9a" stroke-width="0.4"/></g>
<g transform="translate(1078.8,385) scale(1,1.01)"><path d="M0.5,17.5 C-0.3,14 0.3,11 2,9.6 L9,8.4 C14,4.5 19,1.2 26,0.6 C33,-0.2 41,0.2 46,2.2 C51,4.2 56,7 59.5,9 C65,9.6 71,10.8 73.6,12.6 C75.2,14.2 75.2,16.4 74.6,18.6 L73,19.6 L68,19.6 A6.6,6.6 0 0 0 54.6,19.6 L24.6,19.6 A6.6,6.6 0 0 0 11.2,19.6 L2.2,19.6 Z" fill="#000"/><circle cx="17.9" cy="19" r="5.6" fill="#000"/><circle cx="17.9" cy="19" r="3.7" fill="#fff"/><circle cx="61.3" cy="19" r="5.6" fill="#000"/><circle cx="61.3" cy="19" r="3.7" fill="#fff"/><path d="M16.8,8 C19,5 22.5,2.9 26.5,2.4 L33,2.2 L33.4,8 Z" fill="#fff"/><path d="M35.4,2.2 L41,2.5 C45,3.3 49,5.6 52,8.2 L36.4,8 Z" fill="#fff"/><line x1="23.5" y1="2.9" x2="23.2" y2="8" stroke="#000" stroke-width="0.9"/><ellipse cx="71.6" cy="13.2" rx="2.2" ry="1.1" fill="#fff"/><rect x="0.6" y="10.6" width="1.6" height="4" fill="#ddd"/><rect x="20" y="9.6" width="4" height="0.9" fill="#333"/><rect x="37.5" y="9.6" width="4" height="0.9" fill="#333"/></g><g transform="translate(1159.2,385.9) scale(0.97,0.97)"><path d="M0.5,17.5 C-0.3,14 0.3,11 2,9.6 L9,8.4 C14,4.5 19,1.2 26,0.6 C33,-0.2 41,0.2 46,2.2 C51,4.2 56,7 59.5,9 C65,9.6 71,10.8 73.6,12.6 C75.2,14.2 75.2,16.4 74.6,18.6 L73,19.6 L68,19.6 A6.6,6.6 0 0 0 54.6,19.6 L24.6,19.6 A6.6,6.6 0 0 0 11.2,19.6 L2.2,19.6 Z" fill="#000"/><circle cx="17.9" cy="19" r="5.6" fill="#000"/><circle cx="17.9" cy="19" r="3.7" fill="#fff"/><circle cx="61.3" cy="19" r="5.6" fill="#000"/><circle cx="61.3" cy="19" r="3.7" fill="#fff"/><path d="M16.8,8 C19,5 22.5,2.9 26.5,2.4 L33,2.2 L33.4,8 Z" fill="#fff"/><path d="M35.4,2.2 L41,2.5 C45,3.3 49,5.6 52,8.2 L36.4,8 Z" fill="#fff"/><line x1="23.5" y1="2.9" x2="23.2" y2="8" stroke="#000" stroke-width="0.9"/><ellipse cx="71.6" cy="13.2" rx="2.2" ry="1.1" fill="#fff"/><rect x="0.6" y="10.6" width="1.6" height="4" fill="#ddd"/><rect x="20" y="9.6" width="4" height="0.9" fill="#333"/><rect x="37.5" y="9.6" width="4" height="0.9" fill="#333"/></g><polygon points="1150,378 1164.4,377.9 1156.5,383.6 1161,384.4 1146.2,387.2 1155.6,382.6 1150.6,381.8" fill="#000"/><text x="1117.3" y="424.7" font-size="13.2" font-weight="bold" textLength="73.3" lengthAdjust="spacingAndGlyphs">Automotive</text><path d="M1129.2,473.8 L1129.2,446.5 Q1129.2,442 1133.7,442 L1175.9,442 Q1180.4,442 1180.4,446.5 L1180.4,473.8 L1176,473.8 L1176,446.4 L1133.6,446.4 L1133.6,473.8 Z" fill="#34354f"/><path d="M1122.1,476 L1186.9,476 L1186.9,479.5 Q1186.9,484.8 1181.6,484.8 L1127.4,484.8 Q1122.1,484.8 1122.1,479.5 Z" fill="#34354f"/><rect x="1150" y="478.6" width="9.2" height="1.8" fill="#fff"/><circle cx="1154.9" cy="460.6" r="10.9" fill="#d2321f"/><path d="M1153.3,454.4 h3.2 v4.6 h4.6 v3.2 h-4.6 v4.6 h-3.2 v-4.6 h-4.6 v-3.2 h4.6 Z" fill="#fff"/><text x="1183.5" y="472.8" font-size="13.2" font-weight="bold" textLength="48.1" lengthAdjust="spacingAndGlyphs">eHealth</text><text x="1088.8" y="502" font-size="13.2" font-weight="bold" textLength="17.8" lengthAdjust="spacingAndGlyphs">IoT</text><text x="1120.3" y="524.4" font-size="9.6" fill="#7d8288" textLength="28.8" lengthAdjust="spacingAndGlyphs">INTERNET</text><text x="1150" y="524" font-size="6.4" font-style="italic" fill="#59a9e0" textLength="6" lengthAdjust="spacingAndGlyphs">of</text><text x="1120.3" y="535.8" font-size="13.4" font-weight="bold" fill="#1b93d6" textLength="38.3" lengthAdjust="spacingAndGlyphs">THINGS</text><rect x="1110.4" y="501.6" width="5.2" height="3.8" fill="#3aa9e0" rx="0.8"/><circle cx="1120" cy="505.5" r="2" fill="none" stroke="#3aa9e0" stroke-width="1.1"/><rect x="1127.3" y="499.9" width="3.4" height="5.2" fill="#3aa9e0" rx="0.6"/><path d="M1134.5,505 h5 M1137,502.8 v4.4" stroke="#3aa9e0" stroke-width="1.3" fill="none"/><polygon points="1142.4,504.8 1145,500.6 1147.6,504.8" fill="#3aa9e0"/><rect x="1149.4" y="504.1" width="5.2" height="3.8" fill="#3aa9e0" rx="0.8"/><circle cx="1159" cy="509" r="2" fill="none" stroke="#3aa9e0" stroke-width="1.1"/><rect x="1110.8" y="508.4" width="3.4" height="5.2" fill="#3aa9e0" rx="0.6"/><path d="M1117,512.5 h5 M1119.5,510.3 v4.4" stroke="#3aa9e0" stroke-width="1.3" fill="none"/><polygon points="1124.4,512.8 1127,508.6 1129.6,512.8" fill="#3aa9e0"/><rect x="1131.4" y="511.1" width="5.2" height="3.8" fill="#3aa9e0" rx="0.8"/><circle cx="1141" cy="511" r="2" fill="none" stroke="#3aa9e0" stroke-width="1.1"/><rect x="1146.3" y="509.9" width="3.4" height="5.2" fill="#3aa9e0" rx="0.6"/><path d="M1152.5,514 h5 M1155,511.8 v4.4" stroke="#3aa9e0" stroke-width="1.3" fill="none"/><polygon points="1160.4,516.8 1163,512.6 1165.6,516.8" fill="#3aa9e0"/><rect x="1110.9" y="517.6" width="5.2" height="3.8" fill="#3aa9e0" rx="0.8"/><circle cx="1163.5" cy="521.5" r="2" fill="none" stroke="#3aa9e0" stroke-width="1.1"/><rect x="1168.3" y="521.4" width="3.4" height="5.2" fill="#3aa9e0" rx="0.6"/><path d="M1109.5,527 h5 M1112,524.8 v4.4" stroke="#3aa9e0" stroke-width="1.3" fill="none"/><polygon points="1161.4,530.8 1164,526.6 1166.6,530.8" fill="#3aa9e0"/><rect x="1168.4" y="529.1" width="5.2" height="3.8" fill="#3aa9e0" rx="0.8"/><circle cx="1114" cy="534" r="2" fill="none" stroke="#3aa9e0" stroke-width="1.1"/><rect x="1163.3" y="533.9" width="3.4" height="5.2" fill="#3aa9e0" rx="0.6"/><path d="M1113.5,541 h5 M1116,538.8 v4.4" stroke="#3aa9e0" stroke-width="1.3" fill="none"/><polygon points="1121.4,543.3 1124,539.1 1126.6,543.3" fill="#3aa9e0"/><rect x="1129.4" y="538.6" width="5.2" height="3.8" fill="#3aa9e0" rx="0.8"/><circle cx="1140" cy="542" r="2" fill="none" stroke="#3aa9e0" stroke-width="1.1"/><rect x="1146.3" y="538.4" width="3.4" height="5.2" fill="#3aa9e0" rx="0.6"/><path d="M1153.5,542 h5 M1156,539.8 v4.4" stroke="#3aa9e0" stroke-width="1.3" fill="none"/><polygon points="1160.4,544.8 1163,540.6 1165.6,544.8" fill="#3aa9e0"/><rect x="1119.4" y="546.1" width="5.2" height="3.8" fill="#3aa9e0" rx="0.8"/><circle cx="1130" cy="548.5" r="2" fill="none" stroke="#3aa9e0" stroke-width="1.1"/><rect x="1136.3" y="546.4" width="3.4" height="5.2" fill="#3aa9e0" rx="0.6"/><path d="M1143.5,548 h5 M1146,545.8 v4.4" stroke="#3aa9e0" stroke-width="1.3" fill="none"/><polygon points="1151.4,550.8 1154,546.6 1156.6,550.8" fill="#3aa9e0"/><rect x="1131.4" y="552.1" width="5.2" height="3.8" fill="#3aa9e0" rx="0.8"/><circle cx="1147" cy="553.5" r="2" fill="none" stroke="#3aa9e0" stroke-width="1.1"/><ellipse cx="1010" cy="545" rx="22" ry="6" fill="#000" opacity="0.10" transform="rotate(-25 1010 545)"/><polygon points="980,541 1008,527 1029,536 1001,551" fill="#6e7f9c"/><polygon points="980,541 1001,551 1001,553.5 980,543.5" fill="#c9d2e0"/><polygon points="1001,551 1029,536 1029,538.5 1001,553.5" fill="#aab4c8"/><path d="M990,540 L998,517 L1006,543 M994,542 L998,517 L1003,545" fill="none" stroke="#3d4f6e" stroke-width="1.8"/><path d="M981,520 L1016,509.5 L1017,513 L982,524 Z" fill="#5c6b85"/><path d="M977,516 C977,512 984,511.5 984,515.5 L984.5,528 C984.5,531 977.5,532 977.5,528.5 Z" fill="#b8202a"/><line x1="978.2" y1="530" x2="978.2" y2="550" stroke="#444" stroke-width="1.2"/><rect x="1006" y="526" width="6" height="8" fill="#3a4a66"/><rect x="1011" y="529" width="5" height="5" fill="#c8a020"/><rect x="1015" y="525" width="5" height="6" fill="#8a2a2a"/><ellipse cx="1082" cy="549" rx="16" ry="5" fill="#000" opacity="0.10" transform="rotate(-25 1082 549)"/><polygon points="1043,533 1066,543 1066,554 1043,543.5" fill="#f1ebe1"/><polygon points="1066,543 1088,532 1088,543 1066,554" fill="#cfc7b8"/><polygon points="1066,543 1077,527.5 1088,532" fill="#cfc7b8"/><polygon points="1039.5,530.5 1055,518 1079.5,526.5 1066,542.5" fill="#f3b3a4"/><polygon points="1055,518 1061,517.6 1092.5,529 1079.5,526.5" fill="#e59c8c"/><polygon points="1079.5,526.5 1092.5,529 1088.5,533 1077,527.5" fill="#d98c7c"/><polygon points="1047,537.4 1050.4,538.8 1050.4,542.3 1047,540.9" fill="#22306a"/><polygon points="1053.5,540.19 1056.9,541.59 1056.9,545.09 1053.5,543.69" fill="#22306a"/><polygon points="1060,542.99 1063.4,544.39 1063.4,547.89 1060,546.49" fill="#22306a"/><polygon points="1071,544.5 1075,542.5 1075,549.5 1071,551.5" fill="#2a3a7a"/><ellipse cx="1008" cy="598" rx="16" ry="5" fill="#000" opacity="0.10" transform="rotate(-25 1008 598)"/><polygon points="971,584 992,594 992,604 971,594" fill="#e9d9a8"/><polygon points="992,594 1014,583 1014,593 992,604" fill="#9aa3c4"/><polygon points="971,584 992,572 1014,583 992,594" fill="#8d97b8"/><polygon points="973,581.5 986,574 1006,583.5 993,591" fill="#7f89ab"/><polygon points="979.2,578.4 992.2,570.9 1012.2,580.4 999.2,587.9" fill="#a3acc8"/><polygon points="985.4,575.3 998.4,567.8 1018.4,577.3 1005.4,584.8" fill="#7f89ab"/><polygon points="974,587.5 979,589.8 979,597 974,594.7" fill="#f0a020"/><polygon points="982,591 987,593.3 987,601 982,598.7" fill="#f0a020"/><polygon points="996,593.3 999,591.8 999,595 996,596.5" fill="#3a4468"/><polygon points="1001,590.8 1004,589.3 1004,592.5 1001,594" fill="#3a4468"/><polygon points="1006,588.3 1009,586.8 1009,590 1006,591.5" fill="#3a4468"/><ellipse cx="1076" cy="601" rx="16" ry="5" fill="#000" opacity="0.10" transform="rotate(-25 1076 601)"/><polygon points="1037,583 1062,595 1062,607 1037,595" fill="#1f8fa6"/><polygon points="1062,595 1083,584.5 1083,596.5 1062,607" fill="#176e82"/><polygon points="1037,583 1058,570 1083,584.5 1062,595" fill="#59667f"/><polygon points="1039,581.5 1059,570 1065,573 1046,585.5" fill="#6b7893"/><polygon points="1047,585.5 1067,574 1073,577 1054,589.5" fill="#4d5a74"/><polygon points="1055,589.5 1075,578 1081,581 1062,593.5" fill="#6b7893"/><polygon points="1042,589 1046,591 1046,597 1042,595" fill="#bfe8f0"/><polygon points="1066,598 1072,595 1072,601 1066,604" fill="#bfe8f0"/><ellipse cx="1142" cy="602" rx="15" ry="5" fill="#000" opacity="0.10" transform="rotate(-25 1142 602)"/><polygon points="1104,580 1118,572 1132,578 1118,586" fill="#f2b8a8"/><polygon points="1104,580 1118,586 1118,594 1104,588" fill="#f1e4d8"/><polygon points="1111,585 1127,576 1127,596 1111,603" fill="#b7c2e6"/><polygon points="1111,585 1117,588 1117,606 1111,603" fill="#dfe5f6"/><polygon points="1117,588 1134,579 1134,597 1117,606" fill="#9eabd8"/><polygon points="1111,585 1127,576 1134,579 1117,588" fill="#6e7ba6"/><polygon points="1124,572 1130,568.4 1133,570 1127,574" fill="#8b97bd"/><polygon points="1125,596 1139,589 1149,594 1135,601" fill="#f2b8a8"/><polygon points="1125,596 1135,601 1135,608.5 1125,603.5" fill="#f4e9dc"/><polygon points="1135,601 1149,594 1149,601.5 1135,608.5" fill="#d4c6b6"/><polygon points="1139,602 1144,599.5 1144,604.5 1139,607" fill="#7a2a2a"/><polygon points="1119,590 1121.4,588.8 1121.4,591.4 1119,592.6" fill="#3c4a80"/><polygon points="1123,588 1125.4,586.8 1125.4,589.4 1123,590.6" fill="#3c4a80"/><polygon points="1127,586 1129.4,584.8 1129.4,587.4 1127,588.6" fill="#3c4a80"/><polygon points="1119,595 1121.4,593.8 1121.4,596.4 1119,597.6" fill="#3c4a80"/><polygon points="1123,593 1125.4,591.8 1125.4,594.4 1123,595.6" fill="#3c4a80"/><polygon points="1127,591 1129.4,589.8 1129.4,592.4 1127,593.6" fill="#3c4a80"/><polygon points="1119,600 1121.4,598.8 1121.4,601.4 1119,602.6" fill="#3c4a80"/><polygon points="1123,598 1125.4,596.8 1125.4,599.4 1123,600.6" fill="#3c4a80"/><polygon points="1127,596 1129.4,594.8 1129.4,597.4 1127,598.6" fill="#3c4a80"/><ellipse cx="1045" cy="664" rx="22" ry="7" fill="#000" opacity="0.10" transform="rotate(-25 1045 664)"/><polygon points="981,652 1005,640 1030,652 1006,664" fill="#5b6482"/><polygon points="981,652 1006,664 1006,673.5 981,662" fill="#e6e6ea"/><polygon points="1006,664 1030,652 1030,661 1006,673.5" fill="#7a2e35"/><polygon points="1008,650 1032,638 1055,650 1031,662" fill="#6b7392"/><polygon points="1008,650 1031,662 1031,673 1008,661" fill="#f3f0ea"/><polygon points="1031,662 1055,650 1055,661 1031,673" fill="#8a3037"/><polygon points="990,636 1004,629 1020,637 1006,644" fill="#2f3550"/><polygon points="990,636 1006,644 1006,652 990,645" fill="#f0ece4"/><polygon points="1002,612 1006,609.5 1010,611.5 1010,636 1002,640" fill="#efe6c8"/><polygon points="1002,612 1005.5,614 1005.5,641.5 1002,640" fill="#fbf7e6"/><polygon points="1002,612 1006,609.5 1010,611.5 1006,614" fill="#f1a89a"/><polygon points="1009,616 1013,614.5 1034,640 1030,645" fill="#f1a89a"/><polygon points="1009,616 1030,645 1028,648 1007,621" fill="#d98c80"/><polygon points="1026,641 1031,638 1035,640.5 1035,650 1030,653 1026,650.5" fill="#f4ead0"/><polygon points="1026,641 1031,638 1035,640.5 1030,643.5" fill="#f1a89a"/><polygon points="984,657 987,658.4 987,663 984,661.6" fill="#4a4a5a"/><polygon points="989,659.4 992,660.8 992,665.4 989,664" fill="#4a4a5a"/><polygon points="994,661.8 997,663.2 997,667.8 994,666.4" fill="#4a4a5a"/><polygon points="999,664.2 1002,665.6 1002,670.2 999,668.8" fill="#4a4a5a"/><polygon points="1011,655 1014,656.4 1014,660 1011,658.6" fill="#5a5a6a"/><polygon points="1016,657.4 1019,658.8 1019,662.4 1016,661" fill="#5a5a6a"/><polygon points="1021,659.8 1024,661.2 1024,664.8 1021,663.4" fill="#5a5a6a"/><polygon points="1026,662.2 1029,663.6 1029,667.2 1026,665.8" fill="#5a5a6a"/><ellipse cx="1134" cy="667" rx="19" ry="7" fill="#000" opacity="0.10" transform="rotate(-25 1134 667)"/><polygon points="1084.5,656 1106,644 1139.5,661 1118,673" fill="#55605c"/><polygon points="1084.5,656 1118,673 1118,679.6 1084.5,662.6" fill="#3a3a3a"/><polygon points="1118,673 1139.5,661 1139.5,667.6 1118,679.6" fill="#8a7476"/><polygon points="1090,625 1122,641 1122,672 1090,656" fill="#9c4034"/><polygon points="1122,641 1131,636 1131,667 1122,672" fill="#7c3a36"/><polygon points="1090,620 1099,615 1131,631 1122,636" fill="#4e6460"/><polygon points="1090,620 1122,636 1122,641.5 1090,625.5" fill="#c46a50"/><polygon points="1090,626 1122,642 1122,645 1090,629" fill="#e4a89a"/><polygon points="1122,636 1131,631 1131,636.5 1122,641.5" fill="#8a4a40"/><rect x="1099.6" y="610.5" width="5.2" height="13" fill="#c0512f"/><rect x="1103" y="610.5" width="1.8" height="13" fill="#8a3220"/><ellipse cx="1102.2" cy="610.5" rx="2.6" ry="1.2" fill="#d97a5c"/><ellipse cx="1102.2" cy="623.5" rx="2.6" ry="1.2" fill="#8a3220"/><rect x="1106.8" y="614.3" width="5.2" height="13" fill="#c0512f"/><rect x="1110.2" y="614.3" width="1.8" height="13" fill="#8a3220"/><ellipse cx="1109.4" cy="614.3" rx="2.6" ry="1.2" fill="#d97a5c"/><ellipse cx="1109.4" cy="627.3" rx="2.6" ry="1.2" fill="#8a3220"/><rect x="1114" y="618.1" width="5.2" height="13" fill="#c0512f"/><rect x="1117.4" y="618.1" width="1.8" height="13" fill="#8a3220"/><ellipse cx="1116.6" cy="618.1" rx="2.6" ry="1.2" fill="#d97a5c"/><ellipse cx="1116.6" cy="631.1" rx="2.6" ry="1.2" fill="#8a3220"/><rect x="1120.6" y="621.9" width="5.2" height="13" fill="#c0512f"/><rect x="1124" y="621.9" width="1.8" height="13" fill="#8a3220"/><ellipse cx="1123.2" cy="621.9" rx="2.6" ry="1.2" fill="#d97a5c"/><ellipse cx="1123.2" cy="634.9" rx="2.6" ry="1.2" fill="#8a3220"/><polygon points="1091.6,633 1094.2,634.3 1094.2,637.6 1091.6,636.3" fill="#4a1a16"/><polygon points="1096.7,635.55 1099.3,636.85 1099.3,640.15 1096.7,638.85" fill="#4a1a16"/><polygon points="1101.8,638.1 1104.4,639.4 1104.4,642.7 1101.8,641.4" fill="#4a1a16"/><polygon points="1106.9,640.65 1109.5,641.95 1109.5,645.25 1106.9,643.95" fill="#4a1a16"/><polygon points="1112,643.2 1114.6,644.5 1114.6,647.8 1112,646.5" fill="#4a1a16"/><polygon points="1117.1,645.75 1119.7,647.05 1119.7,650.35 1117.1,649.05" fill="#4a1a16"/><polygon points="1091.6,638 1094.2,639.3 1094.2,642.6 1091.6,641.3" fill="#4a1a16"/><polygon points="1096.7,640.55 1099.3,641.85 1099.3,645.15 1096.7,643.85" fill="#4a1a16"/><polygon points="1101.8,643.1 1104.4,644.4 1104.4,647.7 1101.8,646.4" fill="#4a1a16"/><polygon points="1106.9,645.65 1109.5,646.95 1109.5,650.25 1106.9,648.95" fill="#4a1a16"/><polygon points="1112,648.2 1114.6,649.5 1114.6,652.8 1112,651.5" fill="#4a1a16"/><polygon points="1117.1,650.75 1119.7,652.05 1119.7,655.35 1117.1,654.05" fill="#4a1a16"/><polygon points="1091.6,643 1094.2,644.3 1094.2,647.6 1091.6,646.3" fill="#4a1a16"/><polygon points="1096.7,645.55 1099.3,646.85 1099.3,650.15 1096.7,648.85" fill="#4a1a16"/><polygon points="1101.8,648.1 1104.4,649.4 1104.4,652.7 1101.8,651.4" fill="#4a1a16"/><polygon points="1106.9,650.65 1109.5,651.95 1109.5,655.25 1106.9,653.95" fill="#4a1a16"/><polygon points="1112,653.2 1114.6,654.5 1114.6,657.8 1112,656.5" fill="#4a1a16"/><polygon points="1117.1,655.75 1119.7,657.05 1119.7,660.35 1117.1,659.05" fill="#4a1a16"/><polygon points="1091.6,648 1094.2,649.3 1094.2,652.6 1091.6,651.3" fill="#4a1a16"/><polygon points="1096.7,650.55 1099.3,651.85 1099.3,655.15 1096.7,653.85" fill="#4a1a16"/><polygon points="1101.8,653.1 1104.4,654.4 1104.4,657.7 1101.8,656.4" fill="#4a1a16"/><polygon points="1106.9,655.65 1109.5,656.95 1109.5,660.25 1106.9,658.95" fill="#4a1a16"/><polygon points="1112,658.2 1114.6,659.5 1114.6,662.8 1112,661.5" fill="#4a1a16"/><polygon points="1117.1,660.75 1119.7,662.05 1119.7,665.35 1117.1,664.05" fill="#4a1a16"/><polygon points="1091.6,653 1094.2,654.3 1094.2,657.6 1091.6,656.3" fill="#4a1a16"/><polygon points="1096.7,655.55 1099.3,656.85 1099.3,660.15 1096.7,658.85" fill="#4a1a16"/><polygon points="1101.8,658.1 1104.4,659.4 1104.4,662.7 1101.8,661.4" fill="#4a1a16"/><polygon points="1106.9,660.65 1109.5,661.95 1109.5,665.25 1106.9,663.95" fill="#4a1a16"/><polygon points="1112,663.2 1114.6,664.5 1114.6,667.8 1112,666.5" fill="#4a1a16"/><polygon points="1117.1,665.75 1119.7,667.05 1119.7,670.35 1117.1,669.05" fill="#4a1a16"/><polygon points="1125.5,664 1129.5,661.8 1129.5,667.6 1125.5,669.8" fill="#1a0d0b"/><text x="1047.3" y="695.4" font-size="13.2" font-weight="bold" textLength="50.6" lengthAdjust="spacingAndGlyphs">Industry</text><circle cx="1221.6" cy="522" r="11" fill="#2aa9e0"/><path d="M1215.5,526.5 C1220,528.5 1226.5,526 1227.5,519.5 L1229,518 L1227.3,518.2 C1226,516 1222.5,516.2 1221.8,519.6 C1219,519.5 1217.3,518.2 1216,516.6 C1215,518.6 1215.8,520.6 1217.2,521.6 L1215.6,521.2 C1215.8,523 1217,524.2 1218.5,524.8 C1217.6,525.8 1216.6,526.3 1215.5,526.5 Z" fill="#fff"/><circle cx="1249.2" cy="521.2" r="8.5" fill="#dd4b39"/><text x="1243.6" y="524.6" font-size="9.5" font-weight="bold" fill="#fff" textLength="11" lengthAdjust="spacingAndGlyphs">g+</text><circle cx="1236.9" cy="524.1" r="4.5" fill="#3b8ad8"/><rect x="1234.4" y="522.6" width="5" height="3.2" fill="#fff" rx="0.6"/><circle cx="1219.3" cy="539" r="7.5" fill="#0e76a8"/><text x="1215.2" y="542.6" font-size="9.5" font-weight="bold" fill="#fff" textLength="8.4" lengthAdjust="spacingAndGlyphs">in</text><circle cx="1245.7" cy="538.8" r="12.5" fill="#3b5998"/><text x="1241.6" y="547" font-size="22" font-weight="bold" fill="#fff" textLength="8" lengthAdjust="spacingAndGlyphs">f</text><circle cx="1228" cy="550" r="8.5" fill="#cb2027"/><text x="1224.7" y="554.6" font-size="12.5" font-weight="bold" font-style="italic" fill="#fff" textLength="7" lengthAdjust="spacingAndGlyphs">P</text><circle cx="1253" cy="553.8" r="7.5" fill="#f58220"/><circle cx="1250.2" cy="556.6" r="1.3" fill="#fff"/><path d="M1249,552.4 A5.4,5.4 0 0 1 1254.4,557.8 M1249,549.4 A8.4,8.4 0 0 1 1257.4,557.8" fill="none" stroke="#fff" stroke-width="1.3"/><text x="1214.2" y="577.9" font-size="13.2" font-weight="bold" textLength="39.4" lengthAdjust="spacingAndGlyphs">Media</text><circle cx="1208.5" cy="598.5" r="17" fill="#a9acb1" stroke="#7a7d82" stroke-width="1.2"/><circle cx="1208.5" cy="598.5" r="3" fill="#6a6d72"/><circle cx="1217.52" cy="601.78" r="4.2" fill="#3c3e42" stroke="#6a6d72" stroke-width="0.6"/><circle cx="1208.16" cy="608.09" r="4.2" fill="#3c3e42" stroke="#6a6d72" stroke-width="0.6"/><circle cx="1199.27" cy="601.15" r="4.2" fill="#3c3e42" stroke="#6a6d72" stroke-width="0.6"/><circle cx="1203.13" cy="590.54" r="4.2" fill="#3c3e42" stroke="#6a6d72" stroke-width="0.6"/><circle cx="1214.41" cy="590.94" r="4.2" fill="#3c3e42" stroke="#6a6d72" stroke-width="0.6"/><path d="M1222,584 C1228,582 1232,584 1234,581 L1234.5,586 C1231,589 1227,587 1223,589 Z" fill="#c9ccd0"/><path d="M1218.5,597 L1220,628 M1236,592 L1236,625" stroke="#3a8ad0" stroke-width="2.2" fill="none"/><path d="M1218,596.5 C1224,592 1230,595 1237,590.5 L1237,598 C1230,602 1224,599.5 1218.4,603.5 Z" fill="#4a9ae0"/><ellipse cx="1214.5" cy="629.5" rx="6" ry="4.2" fill="#3a8ad0"/><ellipse cx="1231" cy="626.5" rx="5.6" ry="4" fill="#3a8ad0"/><polygon points="1182,606 1205.5,612 1205.5,636 1182,630" fill="#4a8ad8" stroke="#2a5aa8" stroke-width="1"/><polygon points="1205.5,612 1209,610.5 1209,634.5 1205.5,636" fill="#9aa0a8"/><polygon points="1184.5,609.5 1203,614.3 1203,632.5 1184.5,627.6" fill="#f6e24a"/><polygon points="1184.5,622 1203,626 1203,632.5 1184.5,627.6" fill="#4aa83a"/><circle cx="1197" cy="625.5" r="3.6" fill="#fff8c0"/><path d="M1197,625.5 L1186,611 M1197,625.5 L1192,612 M1197,625.5 L1199.5,614 M1197,625.5 L1185,618" stroke="#fff" stroke-width="1.1" fill="none"/></svg>
</body></html>
